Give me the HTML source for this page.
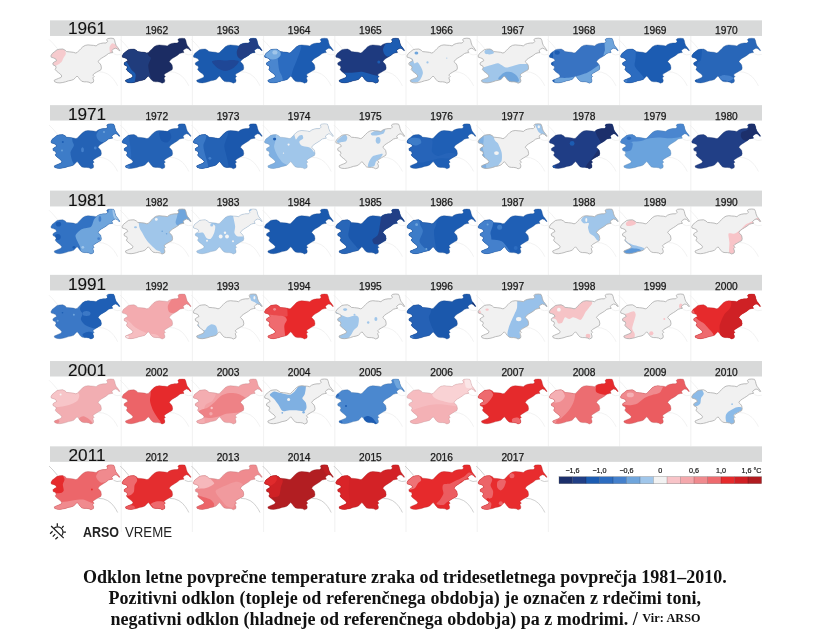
<!DOCTYPE html>
<html><head><meta charset="utf-8"><title>ARSO</title>
<style>
html,body{margin:0;padding:0;background:#fff;}
body{width:831px;height:637px;position:relative;overflow:hidden;font-family:"Liberation Sans",sans-serif;}
svg text{font-family:"Liberation Sans",sans-serif;fill:#111;stroke:#111;stroke-width:0.12px;}
svg text.ys{fill:#181818;stroke:#181818;stroke-width:0.25px;}
svg text.lg{fill:#181818;stroke:#181818;stroke-width:0.2px;}
.cap{position:absolute;font-family:"Liberation Serif",serif;font-weight:bold;color:#111;white-space:nowrap;font-size:18px;line-height:21px;}
.cap span.l{position:absolute;display:block;white-space:nowrap;}
.src{font-size:12.2px;position:relative;top:-3.4px;letter-spacing:0.1px}
.logo{position:absolute;top:523.5px;font-size:14.4px;line-height:16px;color:#222;white-space:nowrap;transform-origin:0 0;}
#wrap{position:absolute;left:0;top:0;width:831px;height:637px;filter:blur(0.55px);}
</style></head><body><div id="wrap">
<svg width="831" height="637" viewBox="0 0 831 637" style="position:absolute;left:0;top:0">
<defs><path id="si" d="M0.9,36.0 L2.3,33.6 L4.7,31.7 L7.1,29.8 L9.4,29.3 L12.8,29.1 L15.2,30.3 L16.6,31.7 L19.9,32.0 L23.3,32.4 L25.6,33.1 L27.1,32.7 L29.0,30.7 L30.9,28.8 L32.8,26.9 L35.2,25.5 L38.0,25.0 L40.9,25.3 L43.7,25.5 L46.1,26.0 L48.0,24.5 L50.4,23.6 L53.3,23.1 L56.1,23.1 L57.6,21.6 L56.6,19.7 L58.0,18.6 L60.9,18.3 L63.7,18.6 L64.7,20.7 L65.2,23.1 L66.1,25.5 L67.6,27.4 L69.0,29.3 L69.9,30.7 L69.0,30.7 L67.1,28.8 L65.2,28.3 L63.3,29.3 L61.8,30.7 L62.8,32.7 L60.9,32.9 L58.5,33.6 L56.1,35.5 L53.7,37.0 L51.4,38.4 L49.5,39.8 L48.0,41.8 L49.5,43.2 L50.9,45.1 L51.4,48.0 L50.9,49.9 L49.0,50.9 L46.6,52.3 L44.2,53.7 L42.8,55.2 L44.2,56.6 L42.8,58.0 L43.7,60.4 L43.3,62.3 L40.9,63.3 L39.0,62.3 L36.6,61.9 L34.2,61.9 L31.8,61.4 L29.9,59.5 L28.5,57.6 L27.1,56.1 L25.6,57.6 L23.7,59.5 L21.3,60.4 L18.5,60.9 L15.6,61.9 L12.8,62.6 L9.9,63.0 L7.1,62.8 L4.7,61.9 L4.2,60.4 L6.1,59.5 L8.5,58.5 L10.9,57.6 L11.8,56.1 L10.4,54.2 L8.5,52.8 L6.6,51.3 L5.1,49.4 L6.1,48.0 L5.6,46.1 L3.2,45.1 L2.8,43.2 L4.7,41.8 L6.6,40.8 L5.6,38.9 L3.2,37.9 L1.3,37.4Z"/><clipPath id="cp"><use href="#si"/></clipPath>
<g id="nb" fill="none" stroke="#ececec" stroke-width="0.7"><path d="M-1,19.5 L3,23.5 L7.5,28.8"/><path d="M48.5,51.9 L53.2,52.3 L57.7,54.1 L61.3,56.8 L64,60 L66.1,63.1 L67.6,66"/><path d="M63.5,33.8 L67,35 L71,34.5"/></g>
<g id="nb6" fill="none" stroke="#bcbcbc" stroke-width="0.7"><path d="M-1,19.5 L3,23.5 L7.5,28.8"/><path d="M48.5,51.9 L53.2,52.3 L57.7,54.1 L61.3,56.8 L64,60 L66.1,63.1 L67.6,66"/><path d="M63.5,33.8 L67,35 L71,34.5"/></g>
</defs>
<rect width="831" height="637" fill="#fff"/>
<line x1="121.2" y1="36.0" x2="121.2" y2="105.2" stroke="#ededed" stroke-width="0.8"/>
<line x1="192.4" y1="36.0" x2="192.4" y2="105.2" stroke="#ededed" stroke-width="0.8"/>
<line x1="263.6" y1="36.0" x2="263.6" y2="105.2" stroke="#ededed" stroke-width="0.8"/>
<line x1="334.8" y1="36.0" x2="334.8" y2="105.2" stroke="#ededed" stroke-width="0.8"/>
<line x1="406.0" y1="36.0" x2="406.0" y2="105.2" stroke="#ededed" stroke-width="0.8"/>
<line x1="477.2" y1="36.0" x2="477.2" y2="105.2" stroke="#ededed" stroke-width="0.8"/>
<line x1="548.4" y1="36.0" x2="548.4" y2="105.2" stroke="#ededed" stroke-width="0.8"/>
<line x1="619.6" y1="36.0" x2="619.6" y2="105.2" stroke="#ededed" stroke-width="0.8"/>
<line x1="690.8" y1="36.0" x2="690.8" y2="105.2" stroke="#ededed" stroke-width="0.8"/>
<line x1="121.2" y1="120.5" x2="121.2" y2="190.6" stroke="#ededed" stroke-width="0.8"/>
<line x1="192.4" y1="120.5" x2="192.4" y2="190.6" stroke="#ededed" stroke-width="0.8"/>
<line x1="263.6" y1="120.5" x2="263.6" y2="190.6" stroke="#ededed" stroke-width="0.8"/>
<line x1="334.8" y1="120.5" x2="334.8" y2="190.6" stroke="#ededed" stroke-width="0.8"/>
<line x1="406.0" y1="120.5" x2="406.0" y2="190.6" stroke="#ededed" stroke-width="0.8"/>
<line x1="477.2" y1="120.5" x2="477.2" y2="190.6" stroke="#ededed" stroke-width="0.8"/>
<line x1="548.4" y1="120.5" x2="548.4" y2="190.6" stroke="#ededed" stroke-width="0.8"/>
<line x1="619.6" y1="120.5" x2="619.6" y2="190.6" stroke="#ededed" stroke-width="0.8"/>
<line x1="690.8" y1="120.5" x2="690.8" y2="190.6" stroke="#ededed" stroke-width="0.8"/>
<line x1="121.2" y1="206.4" x2="121.2" y2="274.9" stroke="#ededed" stroke-width="0.8"/>
<line x1="192.4" y1="206.4" x2="192.4" y2="274.9" stroke="#ededed" stroke-width="0.8"/>
<line x1="263.6" y1="206.4" x2="263.6" y2="274.9" stroke="#ededed" stroke-width="0.8"/>
<line x1="334.8" y1="206.4" x2="334.8" y2="274.9" stroke="#ededed" stroke-width="0.8"/>
<line x1="406.0" y1="206.4" x2="406.0" y2="274.9" stroke="#ededed" stroke-width="0.8"/>
<line x1="477.2" y1="206.4" x2="477.2" y2="274.9" stroke="#ededed" stroke-width="0.8"/>
<line x1="548.4" y1="206.4" x2="548.4" y2="274.9" stroke="#ededed" stroke-width="0.8"/>
<line x1="619.6" y1="206.4" x2="619.6" y2="274.9" stroke="#ededed" stroke-width="0.8"/>
<line x1="690.8" y1="206.4" x2="690.8" y2="274.9" stroke="#ededed" stroke-width="0.8"/>
<line x1="121.2" y1="290.4" x2="121.2" y2="361.1" stroke="#ededed" stroke-width="0.8"/>
<line x1="192.4" y1="290.4" x2="192.4" y2="361.1" stroke="#ededed" stroke-width="0.8"/>
<line x1="263.6" y1="290.4" x2="263.6" y2="361.1" stroke="#ededed" stroke-width="0.8"/>
<line x1="334.8" y1="290.4" x2="334.8" y2="361.1" stroke="#ededed" stroke-width="0.8"/>
<line x1="406.0" y1="290.4" x2="406.0" y2="361.1" stroke="#ededed" stroke-width="0.8"/>
<line x1="477.2" y1="290.4" x2="477.2" y2="361.1" stroke="#ededed" stroke-width="0.8"/>
<line x1="548.4" y1="290.4" x2="548.4" y2="361.1" stroke="#ededed" stroke-width="0.8"/>
<line x1="619.6" y1="290.4" x2="619.6" y2="361.1" stroke="#ededed" stroke-width="0.8"/>
<line x1="690.8" y1="290.4" x2="690.8" y2="361.1" stroke="#ededed" stroke-width="0.8"/>
<line x1="121.2" y1="376.5" x2="121.2" y2="446.4" stroke="#ededed" stroke-width="0.8"/>
<line x1="192.4" y1="376.5" x2="192.4" y2="446.4" stroke="#ededed" stroke-width="0.8"/>
<line x1="263.6" y1="376.5" x2="263.6" y2="446.4" stroke="#ededed" stroke-width="0.8"/>
<line x1="334.8" y1="376.5" x2="334.8" y2="446.4" stroke="#ededed" stroke-width="0.8"/>
<line x1="406.0" y1="376.5" x2="406.0" y2="446.4" stroke="#ededed" stroke-width="0.8"/>
<line x1="477.2" y1="376.5" x2="477.2" y2="446.4" stroke="#ededed" stroke-width="0.8"/>
<line x1="548.4" y1="376.5" x2="548.4" y2="446.4" stroke="#ededed" stroke-width="0.8"/>
<line x1="619.6" y1="376.5" x2="619.6" y2="446.4" stroke="#ededed" stroke-width="0.8"/>
<line x1="690.8" y1="376.5" x2="690.8" y2="446.4" stroke="#ededed" stroke-width="0.8"/>
<line x1="121.2" y1="461.9" x2="121.2" y2="532.0" stroke="#ededed" stroke-width="0.8"/>
<line x1="192.4" y1="461.9" x2="192.4" y2="532.0" stroke="#ededed" stroke-width="0.8"/>
<line x1="263.6" y1="461.9" x2="263.6" y2="532.0" stroke="#ededed" stroke-width="0.8"/>
<line x1="334.8" y1="461.9" x2="334.8" y2="532.0" stroke="#ededed" stroke-width="0.8"/>
<line x1="406.0" y1="461.9" x2="406.0" y2="532.0" stroke="#ededed" stroke-width="0.8"/>
<line x1="477.2" y1="461.9" x2="477.2" y2="532.0" stroke="#ededed" stroke-width="0.8"/>
<line x1="548.4" y1="461.9" x2="548.4" y2="532.0" stroke="#ededed" stroke-width="0.8"/>
<rect x="50" y="20.35" width="712" height="15.60" fill="#d8d9d9"/>
<rect x="50" y="105.15" width="712" height="15.40" fill="#d8d9d9"/>
<rect x="50" y="190.60" width="712" height="15.85" fill="#d8d9d9"/>
<rect x="50" y="274.85" width="712" height="15.60" fill="#d8d9d9"/>
<rect x="50" y="361.05" width="712" height="15.45" fill="#d8d9d9"/>
<rect x="50" y="446.35" width="712" height="15.50" fill="#d8d9d9"/>
<g transform="translate(50.0,19.9)">
<use href="#nb"/>
<g clip-path="url(#cp)"><rect x="-2" y="14" width="76" height="54" fill="#f1f1f1"/>
<path d="M0.0,35.7 C0.2,34.7 3.7,32.0 5.1,31.0 C6.5,30.0 9.0,28.6 10.3,28.5 C11.6,28.4 14.1,29.3 14.8,30.0 C15.5,30.7 16.0,32.9 15.8,34.0 C15.6,35.1 14.0,37.0 13.5,38.0 C13.0,39.0 12.4,40.7 11.8,41.5 C11.2,42.3 10.0,43.4 9.0,44.0 C8.0,44.6 5.2,46.3 4.3,46.0 C3.4,45.7 2.7,42.6 2.6,41.6 C2.5,40.6 3.7,39.0 3.4,38.2 C3.1,37.4 -0.2,36.7 0.0,35.7Z" fill="#f6cbce"/>
<path d="M59.5,27.5 C59.7,26.2 61.1,23.8 62.0,23.5 C62.9,23.2 65.6,24.4 66.5,25.5 C67.4,26.6 69.3,30.3 69.0,31.5 C68.7,32.7 65.1,34.2 64.0,34.5 C62.9,34.8 61.1,34.4 60.5,33.5 C59.9,32.6 59.3,28.8 59.5,27.5Z" fill="#f6cbce"/>
</g>
<use href="#si" fill="none" stroke="#ababab" stroke-width="0.8"/>
</g>
<text x="87.0" y="34.4" font-size="17.2" text-anchor="middle" class="yl">1961</text>
<g transform="translate(121.2,19.9)">
<use href="#nb"/>
<g clip-path="url(#cp)"><rect x="-2" y="14" width="76" height="54" fill="#1b2c63"/>
<path d="M-5.0,0.0 C-0.8,-10.7 22.0,-4.3 26.2,0.0 C30.4,4.3 25.7,27.1 26.2,32.2 C26.7,37.3 29.5,36.5 29.6,38.2 C29.7,39.9 27.3,43.2 27.1,45.0 C26.9,46.8 27.6,50.1 27.9,51.9 C28.2,53.7 29.4,55.0 29.6,58.7 C29.8,62.4 34.2,77.2 29.6,80.0 C25.0,82.8 -0.4,90.7 -5.0,80.0 C-9.6,69.3 -9.2,10.7 -5.0,0.0Z" fill="#203c7c"/>
<path d="M-2.0,41.0 C-1.2,37.7 2.7,40.5 4.0,41.0 C5.3,41.5 6.5,43.8 7.4,45.0 C8.3,46.2 9.6,48.9 10.5,50.2 C11.4,51.5 14.3,52.9 14.5,55.0 C14.7,57.1 13.3,64.5 12.0,66.0 C10.7,67.5 6.8,66.0 4.9,66.0 C3.0,66.0 -1.1,69.3 -2.0,66.0 C-2.9,62.7 -2.8,44.3 -2.0,41.0Z" fill="#1c5cb2"/>
</g>
<use href="#si" fill="none" stroke="#14214a" stroke-opacity="0.55" stroke-width="0.6"/>
</g>
<text x="156.8" y="34.4" font-size="10.2" text-anchor="middle" class="ys">1962</text>
<g transform="translate(192.4,19.9)">
<use href="#nb"/>
<g clip-path="url(#cp)"><rect x="-2" y="14" width="76" height="54" fill="#1b5aae"/>
<path d="M44.5,31.0 C45.0,29.0 47.7,23.5 49.2,22.0 C50.7,20.5 54.7,21.1 56.0,20.0 C57.3,18.9 57.3,14.8 58.6,14.0 C59.9,13.2 63.6,11.9 65.4,14.0 C67.2,16.1 72.3,27.2 72.0,29.7 C71.7,32.2 64.7,31.5 62.8,32.5 C60.9,33.5 59.3,36.5 57.7,37.5 C56.1,38.5 52.5,40.1 50.9,40.0 C49.3,39.9 46.4,38.2 45.5,37.0 C44.6,35.8 44.0,33.0 44.5,31.0Z" fill="#223f85"/>
<path d="M19.5,41.6 C19.6,40.5 24.2,40.1 26.0,40.0 C27.8,39.9 31.1,40.5 33.0,40.5 C34.9,40.5 38.2,39.9 40.0,40.0 C41.8,40.1 46.4,40.4 46.5,41.5 C46.6,42.6 42.8,46.7 41.0,48.0 C39.2,49.3 35.1,51.0 33.0,51.0 C30.9,51.0 26.8,49.3 25.0,48.0 C23.2,46.7 19.4,42.7 19.5,41.6Z" fill="#1f4796"/>
</g>
<use href="#si" fill="none" stroke="#144382" stroke-opacity="0.55" stroke-width="0.6"/>
</g>
<text x="228.0" y="34.4" font-size="10.2" text-anchor="middle" class="ys">1963</text>
<g transform="translate(263.6,19.9)">
<use href="#nb"/>
<g clip-path="url(#cp)"><rect x="-2" y="14" width="76" height="54" fill="#1c5cb2"/>
<path d="M-5.0,0.0 C0.7,-10.7 32.1,-3.5 37.8,0.0 C43.5,3.5 38.9,19.6 37.8,26.3 C36.7,33.0 30.7,45.7 29.3,50.2 C27.9,54.7 27.7,56.4 27.5,60.4 C27.3,64.4 31.8,77.4 27.5,80.0 C23.2,82.6 -0.7,90.7 -5.0,80.0 C-9.3,69.3 -10.7,10.7 -5.0,0.0Z" fill="#2c6cc0"/>
<path d="M-5.0,0.0 C-2.5,-10.7 11.4,-4.4 13.9,0.0 C16.4,4.4 13.7,26.4 13.9,33.1 C14.1,39.8 14.9,46.8 15.6,50.2 C16.3,53.6 18.5,54.7 19.0,58.7 C19.5,62.7 22.2,77.2 19.0,80.0 C15.8,82.8 -1.8,90.7 -5.0,80.0 C-8.2,69.3 -7.5,10.7 -5.0,0.0Z" fill="#4a86cf"/>
<ellipse cx="9.2" cy="34.0" rx="8.0" ry="5.5" fill="#74a9df"/>
<ellipse cx="11.3" cy="32.5" rx="2.6" ry="2.2" fill="#a0c6ea"/>
</g>
<use href="#si" fill="none" stroke="#154585" stroke-opacity="0.55" stroke-width="0.6"/>
</g>
<text x="299.2" y="34.4" font-size="10.2" text-anchor="middle" class="ys">1964</text>
<g transform="translate(334.8,19.9)">
<use href="#nb"/>
<g clip-path="url(#cp)"><rect x="-2" y="14" width="76" height="54" fill="#1e3a7f"/>
<path d="M48.3,28.8 C48.7,27.3 51.0,23.2 52.2,22.0 C53.4,20.8 56.5,21.1 57.3,20.0 C58.1,18.9 57.2,14.8 58.2,14.0 C59.2,13.2 63.2,11.9 65.0,14.0 C66.8,16.1 72.3,27.2 72.0,29.7 C71.7,32.2 64.4,31.7 62.4,32.5 C60.4,33.3 58.7,35.0 57.3,35.5 C55.9,36.0 53.3,36.8 52.2,36.5 C51.1,36.2 49.7,34.5 49.2,33.5 C48.7,32.5 47.9,30.3 48.3,28.8Z" fill="#1c5cb2"/>
<path d="M-5.0,80.0 C-16.3,76.4 -5.7,56.4 -5.0,52.8 C-4.3,49.2 -2.9,52.8 0.0,52.8 C2.9,52.8 13.4,52.9 17.0,52.8 C20.6,52.7 24.3,51.7 27.0,51.9 C29.7,52.1 34.6,53.9 37.0,54.5 C39.4,55.1 43.0,55.7 45.0,56.2 C47.0,56.7 47.3,57.8 52.0,58.0 C56.7,58.2 76.3,55.1 80.0,58.0 C83.7,60.9 91.3,77.1 80.0,80.0 C68.7,82.9 6.3,83.6 -5.0,80.0Z" fill="#1c5cb2"/>
<ellipse cx="44.0" cy="42.0" rx="1.5" ry="1.5" fill="#1c5cb2"/>
</g>
<use href="#si" fill="none" stroke="#162b5f" stroke-opacity="0.55" stroke-width="0.6"/>
</g>
<text x="370.4" y="34.4" font-size="10.2" text-anchor="middle" class="ys">1965</text>
<g transform="translate(406.0,19.9)">
<use href="#nb"/>
<g clip-path="url(#cp)"><rect x="-2" y="14" width="76" height="54" fill="#f1f1f1"/>
<path d="M2.4,38.2 C2.7,37.4 5.8,38.4 6.6,39.1 C7.4,39.8 7.6,42.9 8.3,43.4 C9.0,43.9 10.9,41.9 11.8,42.5 C12.7,43.1 14.5,46.2 15.2,47.6 C15.9,49.0 16.9,51.4 16.9,52.8 C16.9,54.2 15.9,56.6 15.2,57.9 C14.5,59.2 13.2,61.6 11.8,62.2 C10.4,62.8 5.9,62.7 4.9,62.2 C3.9,61.7 3.6,59.5 4.1,58.7 C4.6,57.9 8.1,57.3 8.3,56.2 C8.5,55.1 6.4,51.7 5.8,50.2 C5.2,48.7 4.6,46.7 4.1,45.1 C3.6,43.5 2.1,39.0 2.4,38.2Z" fill="#a0c6ea"/>
<ellipse cx="10.4" cy="33.1" rx="1.9" ry="1.6" fill="#6fa5dc"/>
<ellipse cx="21.5" cy="42.5" rx="1.1" ry="1.1" fill="#a0c6ea"/>
<ellipse cx="40.8" cy="38.2" rx="0.6" ry="0.6" fill="#a0c6ea"/>
</g>
<use href="#si" fill="none" stroke="#ababab" stroke-width="0.8"/>
</g>
<text x="441.6" y="34.4" font-size="10.2" text-anchor="middle" class="ys">1966</text>
<g transform="translate(477.2,19.9)">
<use href="#nb"/>
<g clip-path="url(#cp)"><rect x="-2" y="14" width="76" height="54" fill="#f1f1f1"/>
<path d="M-5.0,80.0 C-16.3,75.7 -5.7,52.3 -5.0,48.0 C-4.3,43.7 -1.4,48.1 0.0,48.0 C1.4,47.9 3.7,48.0 5.6,47.6 C7.5,47.2 12.1,45.7 14.2,45.1 C16.3,44.5 19.1,43.1 21.0,43.4 C22.9,43.7 26.6,47.3 28.7,47.6 C30.8,47.9 34.5,46.4 36.4,45.9 C38.3,45.4 41.4,44.4 43.2,44.2 C45.0,44.0 48.4,44.2 50.0,44.2 C51.6,44.2 51.0,44.2 55.0,44.2 C59.0,44.2 76.7,39.4 80.0,44.2 C83.3,49.0 91.3,75.2 80.0,80.0 C68.7,84.8 6.3,84.3 -5.0,80.0Z" fill="#a0c6ea"/>
<path d="M21.0,58.7 C21.0,57.7 23.3,55.4 24.4,54.5 C25.5,53.6 28.1,52.1 29.6,51.9 C31.1,51.7 34.2,52.2 35.6,52.8 C37.0,53.4 39.0,55.1 39.8,56.2 C40.6,57.3 42.4,60.4 41.5,61.3 C40.6,62.2 34.6,63.0 33.0,63.0 C31.4,63.0 30.7,61.1 29.6,61.0 C28.5,60.9 25.5,62.3 24.4,62.0 C23.3,61.7 21.0,59.7 21.0,58.7Z" fill="#6fa5dc"/>
<path d="M7.3,31.4 C7.5,30.7 8.9,29.3 9.9,29.0 C10.9,28.7 14.1,29.0 15.0,29.5 C15.9,30.0 17.0,32.4 16.7,33.1 C16.4,33.8 13.6,34.4 12.5,34.5 C11.4,34.6 8.9,34.3 8.2,33.9 C7.5,33.5 7.1,32.1 7.3,31.4Z" fill="#a0c6ea"/>
</g>
<use href="#si" fill="none" stroke="#ababab" stroke-width="0.8"/>
</g>
<text x="512.8" y="34.4" font-size="10.2" text-anchor="middle" class="ys">1967</text>
<g transform="translate(548.4,19.9)">
<use href="#nb"/>
<g clip-path="url(#cp)"><rect x="-2" y="14" width="76" height="54" fill="#3873c2"/>
<path d="M80.0,0.0 C76.8,-10.7 59.2,-2.7 56.0,0.0 C52.8,2.7 55.9,16.0 56.0,20.0 C56.1,24.0 56.6,27.6 56.5,30.0 C56.4,32.4 55.2,31.3 55.0,38.0 C54.8,44.7 51.7,74.4 55.0,80.0 C58.3,85.6 76.7,90.7 80.0,80.0 C83.3,69.3 83.2,10.7 80.0,0.0Z" fill="#6fa5dc"/>
<path d="M-5.0,80.0 C-16.3,77.1 -5.7,60.8 -5.0,57.9 C-4.3,55.0 -1.7,57.9 0.0,57.9 C1.7,57.9 5.2,57.9 7.9,57.9 C10.6,57.9 17.2,58.1 19.9,57.9 C22.6,57.7 26.0,56.9 28.5,56.2 C31.0,55.5 36.4,53.8 38.7,52.8 C41.0,51.8 43.9,49.5 45.5,48.5 C47.1,47.5 48.8,46.2 50.7,45.1 C52.6,44.0 56.1,40.7 60.0,40.0 C63.9,39.3 77.3,34.7 80.0,40.0 C82.7,45.3 91.3,74.7 80.0,80.0 C68.7,85.3 6.3,82.9 -5.0,80.0Z" fill="#6fa5dc"/>
<ellipse cx="8.8" cy="32.7" rx="2.6" ry="2.2" fill="#1c5cb2"/>
<path d="M-5.0,0.0 C-3.7,-10.7 3.2,-4.0 4.5,0.0 C5.8,4.0 4.4,24.0 4.5,30.0 C4.6,36.0 4.8,41.0 5.0,45.0 C5.2,49.0 5.9,55.3 6.0,60.0 C6.1,64.7 7.5,77.3 6.0,80.0 C4.5,82.7 -3.5,90.7 -5.0,80.0 C-6.5,69.3 -6.3,10.7 -5.0,0.0Z" fill="#1c5cb2"/>
</g>
<use href="#si" fill="none" stroke="#2a5691" stroke-opacity="0.55" stroke-width="0.6"/>
</g>
<text x="584.0" y="34.4" font-size="10.2" text-anchor="middle" class="ys">1968</text>
<g transform="translate(619.6,19.9)">
<use href="#nb"/>
<g clip-path="url(#cp)"><rect x="-2" y="14" width="76" height="54" fill="#1c5cb2"/>
<path d="M-5.0,0.0 C-2.2,-10.7 13.3,-4.7 16.1,0.0 C18.9,4.7 16.2,29.4 16.1,35.5 C16.0,41.6 14.5,43.5 15.2,46.0 C15.9,48.5 20.1,52.1 21.4,54.0 C22.7,55.9 24.4,56.7 24.9,60.2 C25.4,63.7 28.9,77.4 24.9,80.0 C20.9,82.6 -1.0,90.7 -5.0,80.0 C-9.0,69.3 -7.8,10.7 -5.0,0.0Z" fill="#2c6cc0"/>
<ellipse cx="5.5" cy="61.0" rx="2.2" ry="2.2" fill="#4480cc"/>
</g>
<use href="#si" fill="none" stroke="#154585" stroke-opacity="0.55" stroke-width="0.6"/>
</g>
<text x="655.2" y="34.4" font-size="10.2" text-anchor="middle" class="ys">1969</text>
<g transform="translate(690.8,19.9)">
<use href="#nb"/>
<g clip-path="url(#cp)"><rect x="-2" y="14" width="76" height="54" fill="#2866b8"/>
<path d="M-5.0,0.0 C-2.8,-10.7 9.0,-4.0 11.2,0.0 C13.4,4.0 11.4,24.7 11.2,30.0 C11.0,35.3 10.7,37.9 10.0,40.0 C9.3,42.1 6.5,40.7 6.0,46.0 C5.5,51.3 7.5,75.5 6.0,80.0 C4.5,84.5 -3.5,90.7 -5.0,80.0 C-6.5,69.3 -7.2,10.7 -5.0,0.0Z" fill="#1c5cb2"/>
<path d="M28.0,57.5 C28.1,56.8 31.4,55.4 33.0,55.2 C34.6,55.0 38.7,55.9 40.0,56.3 C41.3,56.7 42.8,57.9 42.5,58.5 C42.2,59.1 39.4,60.9 38.0,61.1 C36.6,61.3 33.3,60.7 32.0,60.2 C30.7,59.7 27.9,58.2 28.0,57.5Z" fill="#4480cc"/>
</g>
<use href="#si" fill="none" stroke="#1e4c8a" stroke-opacity="0.55" stroke-width="0.6"/>
</g>
<text x="726.4" y="34.4" font-size="10.2" text-anchor="middle" class="ys">1970</text>
<g transform="translate(50.0,105.5)">
<use href="#nb"/>
<g clip-path="url(#cp)"><rect x="-2" y="14" width="76" height="54" fill="#2462b5"/>
<path d="M-5.0,0.0 C-1.4,-10.7 18.6,-4.4 22.2,0.0 C25.8,4.4 22.0,27.8 22.2,33.1 C22.4,38.4 24.1,38.1 23.9,39.9 C23.7,41.7 20.7,44.7 20.5,46.8 C20.3,48.9 21.7,53.5 22.2,55.3 C22.7,57.1 23.7,57.1 23.9,60.4 C24.1,63.7 27.8,77.4 23.9,80.0 C20.0,82.6 -1.1,90.7 -5.0,80.0 C-8.9,69.3 -8.6,10.7 -5.0,0.0Z" fill="#3d7cc8"/>
<path d="M46.5,28.8 C47.0,27.3 49.9,23.2 51.3,22.0 C52.7,20.8 56.3,21.1 57.3,20.0 C58.3,18.9 57.9,14.8 59.0,14.0 C60.1,13.2 64.1,11.9 65.8,14.0 C67.5,16.1 72.3,27.2 72.0,29.7 C71.7,32.2 65.2,31.7 63.2,32.5 C61.2,33.3 58.9,35.0 57.3,35.5 C55.7,36.0 52.6,36.8 51.3,36.5 C50.0,36.2 48.1,34.5 47.5,33.5 C46.9,32.5 46.0,30.3 46.5,28.8Z" fill="#3d7cc8"/>
<ellipse cx="32.5" cy="44.2" rx="1.4" ry="2.5" fill="#4480cc"/>
<ellipse cx="45.3" cy="42.5" rx="1.4" ry="1.4" fill="#4480cc"/>
<ellipse cx="12.8" cy="36.5" rx="1.0" ry="1.0" fill="#1c5cb2"/>
<ellipse cx="12.0" cy="45.0" rx="0.9" ry="0.9" fill="#6fa5dc"/>
<ellipse cx="54.0" cy="26.5" rx="1.0" ry="1.0" fill="#6fa5dc"/>
</g>
<use href="#si" fill="none" stroke="#1b4987" stroke-opacity="0.55" stroke-width="0.6"/>
</g>
<text x="87.0" y="119.9" font-size="17.2" text-anchor="middle" class="yl">1971</text>
<g transform="translate(121.2,105.5)">
<use href="#nb"/>
<g clip-path="url(#cp)"><rect x="-2" y="14" width="76" height="54" fill="#2462b5"/>
<path d="M38.0,27.0 C38.3,25.7 40.7,25.1 42.0,25.0 C43.3,24.9 46.9,25.1 48.0,26.0 C49.1,26.9 50.3,30.5 50.0,32.0 C49.7,33.5 47.3,36.6 46.0,37.0 C44.7,37.4 41.1,36.3 40.0,35.0 C38.9,33.7 37.7,28.3 38.0,27.0Z" fill="#1c58ad"/>
<path d="M-5.0,0.0 C-3.3,-10.7 6.3,-4.0 8.0,0.0 C9.7,4.0 7.9,24.7 8.0,30.0 C8.1,35.3 8.7,37.3 9.0,40.0 C9.3,42.7 10.0,47.6 10.0,50.0 C10.0,52.4 9.1,54.0 9.0,58.0 C8.9,62.0 10.9,77.1 9.0,80.0 C7.1,82.9 -3.1,90.7 -5.0,80.0 C-6.9,69.3 -6.7,10.7 -5.0,0.0Z" fill="#2c6cc0"/>
<ellipse cx="6.0" cy="61.5" rx="2.5" ry="1.5" fill="#4480cc"/>
</g>
<use href="#si" fill="none" stroke="#1b4987" stroke-opacity="0.55" stroke-width="0.6"/>
</g>
<text x="156.8" y="119.9" font-size="10.2" text-anchor="middle" class="ys">1972</text>
<g transform="translate(192.4,105.5)">
<use href="#nb"/>
<g clip-path="url(#cp)"><rect x="-2" y="14" width="76" height="54" fill="#1b58ad"/>
<path d="M-5.0,0.0 C0.5,-10.7 30.5,-3.5 36.0,0.0 C41.5,3.5 36.5,20.7 36.0,26.0 C35.5,31.3 32.3,36.8 32.0,40.0 C31.7,43.2 33.5,47.3 34.0,50.0 C34.5,52.7 35.7,56.0 36.0,60.0 C36.3,64.0 41.5,77.3 36.0,80.0 C30.5,82.7 0.5,90.7 -5.0,80.0 C-10.5,69.3 -10.5,10.7 -5.0,0.0Z" fill="#2462b5"/>
<path d="M-5.0,0.0 C-2.5,-10.7 11.5,-4.0 14.0,0.0 C16.5,4.0 14.4,24.7 14.0,30.0 C13.6,35.3 11.1,37.3 11.0,40.0 C10.9,42.7 12.3,47.1 13.0,50.0 C13.7,52.9 15.6,58.0 16.0,62.0 C16.4,66.0 18.8,77.6 16.0,80.0 C13.2,82.4 -2.2,90.7 -5.0,80.0 C-7.8,69.3 -7.5,10.7 -5.0,0.0Z" fill="#3a78c6"/>
<ellipse cx="17.5" cy="52.8" rx="1.4" ry="1.4" fill="#4480cc"/>
</g>
<use href="#si" fill="none" stroke="#144281" stroke-opacity="0.55" stroke-width="0.6"/>
</g>
<text x="228.0" y="119.9" font-size="10.2" text-anchor="middle" class="ys">1973</text>
<g transform="translate(263.6,105.5)">
<use href="#nb"/>
<g clip-path="url(#cp)"><rect x="-2" y="14" width="76" height="54" fill="#a0c6ea"/>
<path d="M31.8,33.1 C32.4,35.8 34.3,31.0 35.2,30.5 C36.1,30.0 38.1,29.4 38.7,29.7 C39.3,30.0 39.9,32.2 39.5,33.1 C39.1,34.0 35.9,35.3 35.7,36.2 C35.5,37.1 36.6,39.2 37.8,39.9 C39.0,40.6 43.2,41.1 44.6,41.6 C46.0,42.1 47.1,42.7 48.0,43.4 C48.9,44.1 50.1,47.0 51.5,46.8 C52.9,46.6 55.6,43.4 58.3,41.6 C61.0,39.8 70.2,37.3 72.0,33.1 C73.8,28.9 77.5,13.1 72.0,10.0 C66.5,6.9 36.4,6.9 31.0,10.0 C25.6,13.1 31.2,30.4 31.8,33.1Z" fill="#f1f1f1"/>
<path d="M-5.0,0.0 C-2.7,-10.7 9.9,-4.2 12.2,0.0 C14.5,4.2 12.4,25.9 12.2,31.4 C12.0,36.9 10.3,39.1 10.5,41.6 C10.7,44.1 12.8,48.1 13.9,50.2 C15.0,52.3 17.6,55.5 19.0,57.0 C20.4,58.5 23.4,58.2 24.1,61.3 C24.8,64.4 28.0,77.5 24.1,80.0 C20.2,82.5 -1.1,90.7 -5.0,80.0 C-8.9,69.3 -7.3,10.7 -5.0,0.0Z" fill="#7fb0e2"/>
<ellipse cx="11.0" cy="33.6" rx="1.6" ry="1.3" fill="#1c5cb2"/>
<ellipse cx="25.0" cy="39.1" rx="1.1" ry="1.1" fill="#f4f4f4"/>
<ellipse cx="19.9" cy="47.6" rx="0.7" ry="0.7" fill="#f4f4f4"/>
</g>
<use href="#si" fill="none" stroke="#7894af" stroke-opacity="0.55" stroke-width="0.6"/>
</g>
<text x="299.2" y="119.9" font-size="10.2" text-anchor="middle" class="ys">1974</text>
<g transform="translate(334.8,105.5)">
<use href="#nb"/>
<g clip-path="url(#cp)"><rect x="-2" y="14" width="76" height="54" fill="#f1f1f1"/>
<path d="M1.8,35.7 C2.1,34.9 4.9,32.3 6.0,31.4 C7.1,30.5 9.4,28.9 10.3,29.0 C11.2,29.1 12.4,31.3 12.5,32.2 C12.6,33.1 11.9,35.1 11.2,35.7 C10.5,36.3 7.9,36.3 6.9,36.5 C5.9,36.7 4.2,37.5 3.5,37.4 C2.8,37.3 1.5,36.5 1.8,35.7Z" fill="#a0c6ea"/>
<path d="M36.0,28.0 C36.3,27.4 38.8,25.9 40.2,25.5 C41.6,25.1 44.8,25.1 46.2,24.8 C47.6,24.5 50.2,23.1 50.5,23.5 C50.8,23.9 49.8,27.2 48.8,28.0 C47.8,28.8 44.3,29.4 42.8,29.7 C41.3,30.0 38.6,30.2 37.7,30.0 C36.8,29.8 35.7,28.6 36.0,28.0Z" fill="#a0c6ea"/>
<ellipse cx="43.3" cy="34.8" rx="2.4" ry="3.4" fill="#a0c6ea"/>
<path d="M37.7,51.0 C38.8,50.1 41.4,49.6 42.8,49.3 C44.2,49.0 47.6,48.0 47.9,48.5 C48.2,49.0 46.3,51.8 45.4,52.8 C44.5,53.8 41.9,55.2 41.1,56.2 C40.3,57.2 40.4,59.7 39.4,60.4 C38.4,61.1 34.1,61.9 33.4,61.3 C32.7,60.7 33.6,57.6 34.2,56.2 C34.8,54.8 36.6,51.9 37.7,51.0Z" fill="#a0c6ea"/>
</g>
<use href="#si" fill="none" stroke="#ababab" stroke-width="0.8"/>
</g>
<text x="370.4" y="119.9" font-size="10.2" text-anchor="middle" class="ys">1975</text>
<g transform="translate(406.0,105.5)">
<use href="#nb"/>
<g clip-path="url(#cp)"><rect x="-2" y="14" width="76" height="54" fill="#1f5fb5"/>
<path d="M0.0,34.0 C3.3,31.7 21.5,31.4 25.0,33.0 C28.5,34.6 25.1,43.7 26.0,46.0 C26.9,48.3 29.9,50.3 32.0,50.5 C34.1,50.7 39.6,47.9 42.0,47.6 C44.4,47.3 49.5,47.8 50.0,48.5 C50.5,49.2 48.1,52.2 46.0,52.8 C43.9,53.4 36.9,52.5 34.0,52.8 C31.1,53.1 26.8,54.7 24.0,55.3 C21.2,55.9 16.2,57.7 13.0,57.0 C9.8,56.3 1.7,53.1 0.0,50.0 C-1.7,46.9 -3.3,36.3 0.0,34.0Z" fill="#2664b9"/>
<path d="M1.5,34.8 C1.7,33.9 5.0,32.4 6.6,32.2 C8.2,32.0 12.4,32.4 13.5,33.1 C14.6,33.8 15.7,36.5 15.2,37.4 C14.7,38.3 11.5,39.7 10.1,39.9 C8.7,40.1 6.0,39.8 4.9,39.1 C3.8,38.4 1.3,35.7 1.5,34.8Z" fill="#3d7cc8"/>
</g>
<use href="#si" fill="none" stroke="#174787" stroke-opacity="0.55" stroke-width="0.6"/>
</g>
<text x="441.6" y="119.9" font-size="10.2" text-anchor="middle" class="ys">1976</text>
<g transform="translate(477.2,105.5)">
<use href="#nb"/>
<g clip-path="url(#cp)"><rect x="-2" y="14" width="76" height="54" fill="#f1f1f1"/>
<path d="M-5.0,0.0 C-2.1,-10.7 13.8,-4.2 16.7,0.0 C19.6,4.2 16.1,26.3 16.7,31.4 C17.3,36.5 20.0,36.1 21.0,38.2 C22.0,40.3 23.9,44.5 24.4,46.8 C24.9,49.1 24.9,53.4 24.4,55.3 C23.9,57.2 21.5,58.0 21.0,61.3 C20.5,64.6 24.5,77.5 21.0,80.0 C17.5,82.5 -1.5,90.7 -5.0,80.0 C-8.5,69.3 -7.9,10.7 -5.0,0.0Z" fill="#a0c6ea"/>
<path d="M-5.0,0.0 C-3.5,-10.7 5.0,-4.4 6.5,0.0 C8.0,4.4 6.6,27.4 6.5,33.0 C6.4,38.6 5.5,39.7 5.6,42.0 C5.7,44.3 6.8,47.5 7.3,50.2 C7.8,52.9 8.9,58.2 9.1,62.2 C9.3,66.2 11.0,77.6 9.1,80.0 C7.2,82.4 -3.1,90.7 -5.0,80.0 C-6.9,69.3 -6.5,10.7 -5.0,0.0Z" fill="#7fb0e2"/>
<ellipse cx="19.3" cy="47.6" rx="2.4" ry="1.9" fill="#f4f4f4"/>
<path d="M57.8,18.0 C58.5,17.3 63.5,16.6 64.6,17.5 C65.7,18.4 65.7,22.9 66.3,24.5 C66.9,26.1 69.1,29.1 68.9,29.7 C68.7,30.3 65.6,29.3 64.6,28.8 C63.6,28.3 61.9,27.1 61.2,26.3 C60.5,25.5 60.0,23.9 59.5,22.8 C59.0,21.7 57.1,18.7 57.8,18.0Z" fill="#a0c6ea"/>
<ellipse cx="61.6" cy="21.3" rx="1.2" ry="1.5" fill="#f4f4f4"/>
</g>
<use href="#si" fill="none" stroke="#ababab" stroke-width="0.8"/>
</g>
<text x="512.8" y="119.9" font-size="10.2" text-anchor="middle" class="ys">1977</text>
<g transform="translate(548.4,105.5)">
<use href="#nb"/>
<g clip-path="url(#cp)"><rect x="-2" y="14" width="76" height="54" fill="#1f3d85"/>
<path d="M80.0,0.0 C75.6,-10.7 51.7,-3.5 47.3,0.0 C42.9,3.5 46.6,21.2 47.3,26.3 C48.0,31.4 52.6,35.0 52.4,38.2 C52.2,41.4 47.7,47.0 45.6,50.2 C43.5,53.4 38.1,58.2 37.0,62.2 C35.9,66.2 31.3,77.6 37.0,80.0 C42.7,82.4 74.3,90.7 80.0,80.0 C85.7,69.3 84.4,10.7 80.0,0.0Z" fill="#1c2f6b"/>
<ellipse cx="23.7" cy="37.9" rx="2.4" ry="2.4" fill="#1c5cb2"/>
<ellipse cx="5.4" cy="61.3" rx="1.7" ry="1.7" fill="#1c5cb2"/>
</g>
<use href="#si" fill="none" stroke="#172d63" stroke-opacity="0.55" stroke-width="0.6"/>
</g>
<text x="584.0" y="119.9" font-size="10.2" text-anchor="middle" class="ys">1978</text>
<g transform="translate(619.6,105.5)">
<use href="#nb"/>
<g clip-path="url(#cp)"><rect x="-2" y="14" width="76" height="54" fill="#6aa3dd"/>
<path d="M-5.0,0.0 C-16.3,5.1 -5.8,33.0 -5.0,38.1 C-4.2,43.2 -0.8,38.1 1.1,38.1 C3.0,38.1 7.5,38.3 9.0,38.1 C10.5,37.9 10.9,36.6 12.6,36.3 C14.3,36.0 19.1,36.0 21.4,35.5 C23.7,35.0 27.6,33.3 30.2,32.8 C32.8,32.3 38.3,31.9 40.9,31.9 C43.5,31.9 47.4,32.8 49.7,32.8 C52.0,32.8 56.1,32.2 58.5,31.9 C60.9,31.6 64.5,30.4 67.4,30.2 C70.3,30.0 78.3,34.2 80.0,30.2 C81.7,26.2 91.3,4.0 80.0,0.0 C68.7,-4.0 6.3,-5.1 -5.0,0.0Z" fill="#4a86cf"/>
<path d="M1.1,38.1 C2.4,37.2 11.2,36.4 12.6,37.2 C14.0,38.0 12.4,43.1 11.7,44.3 C11.0,45.5 8.4,46.0 7.2,46.0 C6.0,46.0 3.6,45.4 2.8,44.3 C2.0,43.2 -0.2,39.0 1.1,38.1Z" fill="#4a86cf"/>
<ellipse cx="9.4" cy="32.8" rx="2.2" ry="1.8" fill="#2c6cc0"/>
</g>
<use href="#si" fill="none" stroke="#4f7aa5" stroke-opacity="0.55" stroke-width="0.6"/>
</g>
<text x="655.2" y="119.9" font-size="10.2" text-anchor="middle" class="ys">1979</text>
<g transform="translate(690.8,105.5)">
<use href="#nb"/>
<g clip-path="url(#cp)"><rect x="-2" y="14" width="76" height="54" fill="#213f86"/>
<path d="M51.0,26.6 C51.9,25.7 56.1,25.4 57.2,24.0 C58.3,22.6 57.7,17.1 59.0,16.0 C60.3,14.9 65.3,14.0 67.0,16.0 C68.7,18.0 72.5,28.8 72.0,31.0 C71.5,33.2 65.3,32.2 63.4,32.8 C61.5,33.4 59.5,35.3 58.1,35.5 C56.7,35.7 53.9,35.2 52.8,34.6 C51.7,34.0 50.3,32.1 50.1,31.0 C49.9,29.9 50.1,27.5 51.0,26.6Z" fill="#1c2f6b"/>
</g>
<use href="#si" fill="none" stroke="#182f64" stroke-opacity="0.55" stroke-width="0.6"/>
</g>
<text x="726.4" y="119.9" font-size="10.2" text-anchor="middle" class="ys">1980</text>
<g transform="translate(50.0,190.7)">
<use href="#nb"/>
<g clip-path="url(#cp)"><rect x="-2" y="14" width="76" height="54" fill="#3272c3"/>
<ellipse cx="8.5" cy="33.5" rx="2.6" ry="2.4" fill="#1c5cb2"/>
<ellipse cx="7.7" cy="46.3" rx="3.0" ry="3.0" fill="#1c5cb2"/>
<path d="M25.6,44.6 C26.2,43.0 29.5,39.7 31.6,38.6 C33.7,37.5 39.3,37.5 41.0,36.1 C42.7,34.7 43.0,30.3 44.4,28.4 C45.8,26.5 49.5,22.9 51.3,22.0 C53.1,21.1 57.1,22.8 58.1,22.0 C59.1,21.2 58.0,16.8 59.0,16.0 C60.0,15.2 64.1,14.1 65.8,16.0 C67.5,17.9 72.3,27.9 72.0,30.1 C71.7,32.3 65.3,31.8 63.2,32.6 C61.1,33.4 58.0,35.1 56.4,36.1 C54.8,37.1 52.0,38.4 51.3,40.3 C50.6,42.2 52.0,48.5 51.3,50.6 C50.6,52.7 47.3,53.9 46.2,55.7 C45.1,57.5 44.5,62.9 42.7,64.0 C40.9,65.1 34.2,65.1 32.5,64.0 C30.8,62.9 30.6,57.5 29.9,55.7 C29.2,53.9 28.0,52.1 27.4,50.6 C26.8,49.1 25.0,46.2 25.6,44.6Z" fill="#6fa5dc"/>
<path d="M62.4,16.0 C62.7,14.8 64.5,14.1 65.8,16.0 C67.1,17.9 72.0,28.3 72.0,30.1 C72.0,31.9 67.0,29.9 65.8,29.2 C64.6,28.5 63.7,26.7 63.2,24.9 C62.7,23.1 62.1,17.2 62.4,16.0Z" fill="#a0c6ea"/>
<ellipse cx="49.9" cy="28.4" rx="1.4" ry="3.0" fill="#4480cc"/>
<ellipse cx="48.7" cy="48.0" rx="1.4" ry="1.4" fill="#4480cc"/>
<ellipse cx="32.8" cy="56.6" rx="1.4" ry="1.4" fill="#a0c6ea"/>
<ellipse cx="23.9" cy="56.6" rx="1.4" ry="1.4" fill="#1c5cb2"/>
</g>
<use href="#si" fill="none" stroke="#255592" stroke-opacity="0.55" stroke-width="0.6"/>
</g>
<text x="87.0" y="205.5" font-size="17.2" text-anchor="middle" class="yl">1981</text>
<g transform="translate(121.2,190.7)">
<use href="#nb"/>
<g clip-path="url(#cp)"><rect x="-2" y="14" width="76" height="54" fill="#f1f1f1"/>
<path d="M80.0,0.0 C71.7,-10.7 26.0,-4.5 17.7,0.0 C9.4,4.5 17.2,27.9 17.7,33.5 C18.2,39.1 20.0,39.7 21.1,42.0 C22.2,44.3 24.4,48.3 26.2,50.6 C28.0,52.9 33.0,57.5 34.8,59.1 C36.6,60.7 39.2,59.8 39.9,62.6 C40.6,65.4 34.6,77.7 39.9,80.0 C45.2,82.3 74.7,90.7 80.0,80.0 C85.3,69.3 88.3,10.7 80.0,0.0Z" fill="#a0c6ea"/>
<path d="M56.1,24.9 C56.4,22.8 56.0,17.2 57.0,16.0 C58.0,14.8 61.8,14.1 63.8,16.0 C65.8,17.9 72.3,27.9 72.0,30.1 C71.7,32.3 63.3,31.9 61.3,32.6 C59.3,33.3 57.9,35.3 57.0,35.2 C56.1,35.1 54.5,33.2 54.4,31.8 C54.3,30.4 55.8,27.0 56.1,24.9Z" fill="#6fa5dc"/>
<ellipse cx="35.1" cy="28.7" rx="1.4" ry="1.4" fill="#f4f4f4"/>
<ellipse cx="14.3" cy="36.6" rx="1.5" ry="1.0" fill="#a0c6ea"/>
<ellipse cx="41.0" cy="40.5" rx="0.8" ry="0.8" fill="#6fa5dc"/>
<ellipse cx="45.4" cy="43.0" rx="0.8" ry="0.8" fill="#6fa5dc"/>
</g>
<use href="#si" fill="none" stroke="#ababab" stroke-width="0.8"/>
</g>
<text x="156.8" y="205.5" font-size="10.2" text-anchor="middle" class="ys">1982</text>
<g transform="translate(192.4,190.7)">
<use href="#nb"/>
<g clip-path="url(#cp)"><rect x="-2" y="14" width="76" height="54" fill="#a0c6ea"/>
<path d="M-2.0,37.8 C-0.9,35.9 4.6,29.3 6.4,28.0 C8.2,26.7 10.0,27.4 11.6,28.0 C13.2,28.6 16.9,31.6 18.4,32.6 C19.9,33.6 22.2,33.9 22.7,35.2 C23.2,36.5 22.4,40.3 21.8,42.0 C21.2,43.7 19.4,47.3 18.4,48.0 C17.4,48.7 15.1,48.0 14.1,47.2 C13.1,46.4 11.8,42.7 10.7,42.0 C9.6,41.3 7.3,42.0 5.6,42.0 C3.9,42.0 -1.0,42.6 -2.0,42.0 C-3.0,41.4 -3.1,39.7 -2.0,37.8Z" fill="#f1f1f1"/>
<path d="M40.6,20.0 C41.7,18.0 48.5,20.0 50.9,20.0 C53.3,20.0 57.5,20.7 58.6,20.0 C59.7,19.3 58.4,15.7 59.4,15.0 C60.4,14.3 64.6,12.9 66.3,15.0 C68.0,17.1 72.5,28.6 72.0,30.9 C71.5,33.2 64.9,31.8 62.8,32.6 C60.7,33.4 57.5,35.6 56.0,36.9 C54.5,38.2 52.4,40.9 51.7,42.0 C51.0,43.1 51.8,45.0 50.9,45.5 C50.0,46.0 46.1,46.0 44.9,45.5 C43.7,45.0 42.3,43.4 42.0,42.0 C41.7,40.6 42.9,38.1 42.7,35.2 C42.5,32.3 39.5,22.0 40.6,20.0Z" fill="#f1f1f1"/>
<ellipse cx="28.3" cy="45.8" rx="1.9" ry="1.9" fill="#f4f4f4"/>
<ellipse cx="34.6" cy="45.8" rx="1.9" ry="1.9" fill="#f4f4f4"/>
<ellipse cx="32.6" cy="42.0" rx="1.2" ry="1.2" fill="#f4f4f4"/>
<ellipse cx="14.6" cy="50.1" rx="1.0" ry="1.0" fill="#f4f4f4"/>
<ellipse cx="40.6" cy="50.6" rx="1.0" ry="1.0" fill="#f4f4f4"/>
<ellipse cx="19.3" cy="34.3" rx="1.5" ry="1.5" fill="#a0c6ea"/>
</g>
<use href="#si" fill="none" stroke="#7894af" stroke-opacity="0.55" stroke-width="0.6"/>
</g>
<text x="228.0" y="205.5" font-size="10.2" text-anchor="middle" class="ys">1983</text>
<g transform="translate(263.6,190.7)">
<use href="#nb"/>
<g clip-path="url(#cp)"><rect x="-2" y="14" width="76" height="54" fill="#1a59ae"/>
</g>
<use href="#si" fill="none" stroke="#134282" stroke-opacity="0.55" stroke-width="0.6"/>
</g>
<text x="299.2" y="205.5" font-size="10.2" text-anchor="middle" class="ys">1984</text>
<g transform="translate(334.8,190.7)">
<use href="#nb"/>
<g clip-path="url(#cp)"><rect x="-2" y="14" width="76" height="54" fill="#1b58ad"/>
<path d="M-5.0,0.0 C-2.3,-10.7 12.7,-4.2 15.4,0.0 C18.1,4.2 15.6,25.7 15.4,31.8 C15.2,37.9 12.9,42.3 13.7,45.5 C14.5,48.7 19.9,53.7 21.4,55.7 C22.9,57.7 24.3,57.6 24.8,60.8 C25.3,64.0 28.8,77.4 24.8,80.0 C20.8,82.6 -1.0,90.7 -5.0,80.0 C-9.0,69.3 -7.7,10.7 -5.0,0.0Z" fill="#2866b8"/>
<path d="M45.4,32.6 C45.9,30.4 46.4,23.7 47.9,22.0 C49.4,20.3 55.1,20.9 56.5,20.0 C57.9,19.1 57.1,15.7 58.2,15.0 C59.3,14.3 63.2,13.0 65.0,15.0 C66.8,17.0 72.3,27.8 72.0,30.1 C71.7,32.4 64.5,31.8 62.4,32.6 C60.3,33.4 57.6,35.1 56.5,36.1 C55.4,37.1 54.3,38.5 54.0,40.3 C53.7,42.1 55.1,48.0 54.0,49.7 C52.9,51.4 47.3,52.7 45.4,53.2 C43.5,53.7 40.4,53.8 39.4,53.2 C38.4,52.6 37.2,50.0 37.7,48.9 C38.2,47.8 41.9,46.0 42.8,44.6 C43.7,43.2 44.2,40.2 44.5,38.6 C44.8,37.0 44.9,34.8 45.4,32.6Z" fill="#213f86"/>
</g>
<use href="#si" fill="none" stroke="#144281" stroke-opacity="0.55" stroke-width="0.6"/>
</g>
<text x="370.4" y="205.5" font-size="10.2" text-anchor="middle" class="ys">1985</text>
<g transform="translate(406.0,190.7)">
<use href="#nb"/>
<g clip-path="url(#cp)"><rect x="-2" y="14" width="76" height="54" fill="#1c5cb2"/>
<path d="M-5.0,0.0 C-0.3,-10.7 25.9,-4.1 30.6,0.0 C35.3,4.1 30.9,25.5 30.6,30.9 C30.3,36.3 28.2,37.7 28.0,40.3 C27.8,42.9 28.6,47.7 28.9,50.6 C29.2,53.5 30.4,57.8 30.6,61.7 C30.8,65.6 35.3,77.6 30.6,80.0 C25.9,82.4 -0.3,90.7 -5.0,80.0 C-9.7,69.3 -9.7,10.7 -5.0,0.0Z" fill="#2866b8"/>
<path d="M-5.0,0.0 C-2.5,-10.7 11.0,-4.1 13.5,0.0 C16.0,4.1 13.0,25.5 13.5,30.9 C14.0,36.3 16.9,37.7 16.9,40.3 C16.9,42.9 13.3,48.3 13.5,50.6 C13.7,52.9 17.2,55.9 18.6,57.4 C20.0,58.9 23.0,58.7 23.7,61.7 C24.4,64.7 27.5,77.6 23.7,80.0 C19.9,82.4 -1.2,90.7 -5.0,80.0 C-8.8,69.3 -7.5,10.7 -5.0,0.0Z" fill="#3d7cc8"/>
<ellipse cx="10.6" cy="34.0" rx="1.4" ry="1.4" fill="#6fa5dc"/>
<ellipse cx="20.3" cy="58.3" rx="1.0" ry="1.0" fill="#6fa5dc"/>
</g>
<use href="#si" fill="none" stroke="#154585" stroke-opacity="0.55" stroke-width="0.6"/>
</g>
<text x="441.6" y="205.5" font-size="10.2" text-anchor="middle" class="ys">1986</text>
<g transform="translate(477.2,190.7)">
<use href="#nb"/>
<g clip-path="url(#cp)"><rect x="-2" y="14" width="76" height="54" fill="#1f5fb5"/>
<path d="M-5.0,0.0 C-2.2,-10.7 13.1,-4.2 15.9,0.0 C18.7,4.2 16.2,26.2 15.9,31.8 C15.6,37.4 13.5,39.7 13.3,42.0 C13.1,44.3 14.1,43.8 14.2,48.9 C14.3,54.0 16.8,75.9 14.2,80.0 C11.6,84.1 -2.4,90.7 -5.0,80.0 C-7.6,69.3 -7.8,10.7 -5.0,0.0Z" fill="#4480cc"/>
<path d="M-2.0,48.9 C0.2,46.9 10.7,48.7 14.2,48.9 C17.7,49.1 22.2,49.5 24.4,50.6 C26.6,51.7 29.5,55.6 30.4,57.4 C31.3,59.2 35.6,63.1 31.3,64.0 C27.0,64.9 2.4,66.0 -2.0,64.0 C-6.4,62.0 -4.2,50.9 -2.0,48.9Z" fill="#4480cc"/>
<ellipse cx="22.4" cy="36.6" rx="2.5" ry="2.5" fill="#3d7cc8"/>
<ellipse cx="38.5" cy="57.4" rx="2.0" ry="2.0" fill="#2c6cc0"/>
<ellipse cx="10.4" cy="33.8" rx="1.0" ry="1.0" fill="#6fa5dc"/>
</g>
<use href="#si" fill="none" stroke="#174787" stroke-opacity="0.55" stroke-width="0.6"/>
</g>
<text x="512.8" y="205.5" font-size="10.2" text-anchor="middle" class="ys">1987</text>
<g transform="translate(548.4,190.7)">
<use href="#nb"/>
<g clip-path="url(#cp)"><rect x="-2" y="14" width="76" height="54" fill="#f1f1f1"/>
<path d="M32.7,29.2 C32.9,28.1 36.0,24.7 37.0,24.0 C38.0,23.3 39.0,24.3 40.4,24.0 C41.8,23.7 45.2,22.5 47.3,22.0 C49.4,21.5 54.4,20.9 55.8,20.0 C57.2,19.1 56.4,15.7 57.5,15.0 C58.6,14.3 62.5,13.0 64.4,15.0 C66.3,17.0 72.2,27.8 72.0,30.1 C71.8,32.4 64.5,31.9 62.6,32.6 C60.7,33.3 58.9,34.4 57.5,35.2 C56.1,36.0 53.3,36.6 52.4,38.6 C51.5,40.6 51.4,49.6 50.5,50.5 C49.6,51.4 46.8,46.7 45.6,45.6 C44.4,44.5 42.1,43.7 41.3,42.5 C40.5,41.3 39.7,38.2 39.6,36.9 C39.5,35.6 41.0,33.2 40.4,32.6 C39.8,32.0 36.3,33.1 35.3,32.6 C34.3,32.1 32.5,30.3 32.7,29.2Z" fill="#a0c6ea"/>
<ellipse cx="37.9" cy="29.2" rx="1.0" ry="2.0" fill="#f4f4f4"/>
</g>
<use href="#si" fill="none" stroke="#ababab" stroke-width="0.8"/>
</g>
<text x="584.0" y="205.5" font-size="10.2" text-anchor="middle" class="ys">1988</text>
<g transform="translate(619.6,190.7)">
<use href="#nb"/>
<g clip-path="url(#cp)"><rect x="-2" y="14" width="76" height="54" fill="#f1f1f1"/>
<path d="M6.4,32.3 C6.8,31.6 8.7,29.8 9.9,29.5 C11.1,29.2 14.4,29.5 15.2,30.0 C16.0,30.5 16.6,32.5 16.1,33.2 C15.6,33.9 12.9,34.8 11.7,35.0 C10.5,35.2 7.9,35.4 7.2,35.0 C6.5,34.6 6.0,33.0 6.4,32.3Z" fill="#f8c4c8"/>
<path d="M0.0,47.4 C0.6,45.2 3.6,46.9 4.6,47.4 C5.6,47.9 6.3,50.1 7.2,50.9 C8.1,51.7 10.3,52.9 11.7,53.5 C13.1,54.1 16.1,54.7 17.9,55.3 C19.7,55.9 24.2,56.8 24.9,58.0 C25.6,59.2 24.4,63.2 23.2,64.0 C22.0,64.8 18.0,64.0 16.1,64.0 C14.2,64.0 11.1,64.0 9.0,64.0 C6.9,64.0 1.2,66.2 0.0,64.0 C-1.2,61.8 -0.6,49.6 0.0,47.4Z" fill="#9cc3ea"/>
<path d="M3.0,58.5 C3.9,57.6 8.0,57.6 10.0,57.5 C12.0,57.4 16.4,57.7 18.0,58.0 C19.6,58.3 21.5,59.2 22.0,60.0 C22.5,60.8 24.5,63.5 22.0,64.0 C19.5,64.5 5.5,64.7 3.0,64.0 C0.5,63.3 2.1,59.4 3.0,58.5Z" fill="#5b97d8"/>
</g>
<use href="#si" fill="none" stroke="#ababab" stroke-width="0.8"/>
</g>
<text x="655.2" y="205.5" font-size="10.2" text-anchor="middle" class="ys">1989</text>
<g transform="translate(690.8,190.7)">
<use href="#nb"/>
<g clip-path="url(#cp)"><rect x="-2" y="14" width="76" height="54" fill="#f1f1f1"/>
<path d="M37.8,42.9 C38.5,41.7 42.5,43.4 44.0,42.9 C45.5,42.4 47.9,40.6 49.3,39.4 C50.7,38.2 53.0,35.3 54.6,34.1 C56.2,32.9 59.9,31.5 61.6,30.6 C63.3,29.7 65.6,27.0 67.0,27.0 C68.4,27.0 72.5,29.8 72.0,30.6 C71.5,31.4 65.4,32.5 63.4,33.2 C61.4,33.9 58.5,34.8 57.2,35.9 C55.9,37.0 54.3,39.6 53.9,41.2 C53.5,42.8 55.1,46.6 54.0,48.2 C52.9,49.8 47.0,52.0 45.7,52.9 C44.4,53.8 44.3,53.8 44.2,55.3 C44.1,56.8 45.8,62.8 45.1,64.0 C44.4,65.2 39.5,65.6 38.6,64.0 C37.7,62.4 38.7,54.6 38.6,51.8 C38.5,49.0 37.1,44.1 37.8,42.9Z" fill="#f8c4c8"/>
</g>
<use href="#si" fill="none" stroke="#ababab" stroke-width="0.8"/>
</g>
<text x="726.4" y="205.5" font-size="10.2" text-anchor="middle" class="ys">1990</text>
<g transform="translate(50.0,275.7)">
<use href="#nb"/>
<g clip-path="url(#cp)"><rect x="-2" y="14" width="76" height="54" fill="#3b78c6"/>
<path d="M29.9,33.1 C30.1,31.2 32.5,25.5 34.2,24.0 C35.9,22.5 40.4,22.5 42.7,22.0 C45.0,21.5 49.2,20.3 51.3,20.0 C53.4,19.7 57.1,20.7 58.1,20.0 C59.1,19.3 58.0,15.7 59.0,15.0 C60.0,14.3 64.1,13.0 65.8,15.0 C67.5,17.0 72.3,27.4 72.0,29.7 C71.7,32.0 65.2,31.4 63.2,32.2 C61.2,33.0 58.5,34.7 57.3,35.7 C56.1,36.7 54.4,38.1 54.0,39.9 C53.6,41.7 55.0,47.6 54.0,49.3 C53.0,51.0 47.9,52.5 46.2,52.8 C44.5,53.1 42.6,52.5 41.0,51.9 C39.4,51.3 35.6,49.6 34.2,48.5 C32.8,47.4 31.0,44.8 30.8,43.4 C30.6,42.0 32.6,39.6 32.5,38.2 C32.4,36.8 29.7,35.0 29.9,33.1Z" fill="#1f5fb5"/>
<ellipse cx="36.5" cy="37.8" rx="4.0" ry="2.5" fill="#3b78c6"/>
<path d="M32.5,58.7 C32.6,57.7 36.2,56.4 37.6,56.2 C39.0,56.0 41.6,56.0 42.7,57.0 C43.8,58.0 46.8,63.1 46.0,64.0 C45.2,64.9 38.6,64.7 36.8,64.0 C35.0,63.3 32.4,59.7 32.5,58.7Z" fill="#1f5fb5"/>
<ellipse cx="23.9" cy="39.1" rx="1.0" ry="1.0" fill="#6fa5dc"/>
<ellipse cx="7.7" cy="45.1" rx="1.0" ry="1.0" fill="#6fa5dc"/>
<ellipse cx="12.5" cy="37.0" rx="0.8" ry="0.8" fill="#1c5cb2"/>
</g>
<use href="#si" fill="none" stroke="#2c5a94" stroke-opacity="0.55" stroke-width="0.6"/>
</g>
<text x="87.0" y="289.8" font-size="17.2" text-anchor="middle" class="yl">1991</text>
<g transform="translate(121.2,275.7)">
<use href="#nb"/>
<g clip-path="url(#cp)"><rect x="-2" y="14" width="76" height="54" fill="#f3abaf"/>
<path d="M46.8,29.7 C47.4,27.9 50.5,23.3 51.9,22.0 C53.3,20.7 56.1,20.9 57.0,20.0 C57.9,19.1 57.6,15.7 58.7,15.0 C59.8,14.3 63.8,13.0 65.6,15.0 C67.4,17.0 72.2,27.4 72.0,29.7 C71.8,32.0 65.7,31.5 63.8,32.2 C61.9,32.9 59.5,34.1 57.9,34.8 C56.3,35.5 53.3,37.3 51.9,37.4 C50.5,37.5 48.3,36.7 47.6,35.7 C46.9,34.7 46.2,31.5 46.8,29.7Z" fill="#f08488"/>
<path d="M0.0,43.4 C0.5,40.4 2.8,42.9 4.0,43.4 C5.2,43.9 7.7,45.7 9.1,46.8 C10.5,47.9 12.2,50.5 14.3,51.9 C16.4,53.3 21.8,56.1 24.5,57.0 C27.2,57.9 33.0,58.1 34.8,58.7 C36.6,59.3 37.7,60.3 38.2,61.3 C38.7,62.3 43.3,65.4 38.2,66.0 C33.1,66.6 5.1,69.0 0.0,66.0 C-5.1,63.0 -0.5,46.4 0.0,43.4Z" fill="#f6bdc0"/>
<ellipse cx="5.5" cy="61.2" rx="2.2" ry="1.2" fill="#f8e4e5"/>
</g>
<use href="#si" fill="none" stroke="#b68083" stroke-opacity="0.55" stroke-width="0.6"/>
</g>
<text x="156.8" y="289.8" font-size="10.2" text-anchor="middle" class="ys">1992</text>
<g transform="translate(192.4,275.7)">
<use href="#nb"/>
<g clip-path="url(#cp)"><rect x="-2" y="14" width="76" height="54" fill="#f1f1f1"/>
<path d="M0.0,48.5 C0.7,46.2 4.5,47.9 5.6,48.5 C6.7,49.1 7.2,52.0 8.1,52.8 C9.0,53.6 11.5,54.7 12.4,54.5 C13.3,54.3 14.1,51.8 15.0,51.0 C15.9,50.2 18.2,48.6 19.3,48.5 C20.4,48.4 22.7,49.3 23.5,50.2 C24.3,51.1 25.1,54.0 25.2,55.3 C25.3,56.6 25.3,58.2 24.4,59.6 C23.5,61.0 20.1,65.1 18.4,66.0 C16.7,66.9 14.1,66.0 11.6,66.0 C9.1,66.0 1.5,68.3 0.0,66.0 C-1.5,63.7 -0.7,50.8 0.0,48.5Z" fill="#a0c6ea"/>
<path d="M57.7,17.0 C58.5,16.0 63.5,16.0 64.6,17.0 C65.7,18.0 65.6,22.7 66.3,24.5 C67.0,26.3 69.8,29.9 69.7,30.5 C69.6,31.1 66.4,29.4 65.4,28.8 C64.4,28.2 62.9,26.9 62.0,26.3 C61.1,25.7 59.2,25.7 58.6,24.5 C58.0,23.3 56.9,18.0 57.7,17.0Z" fill="#a0c6ea"/>
<ellipse cx="62.0" cy="22.0" rx="1.0" ry="1.7" fill="#f4f4f4"/>
</g>
<use href="#si" fill="none" stroke="#ababab" stroke-width="0.8"/>
</g>
<text x="228.0" y="289.8" font-size="10.2" text-anchor="middle" class="ys">1993</text>
<g transform="translate(263.6,275.7)">
<use href="#nb"/>
<g clip-path="url(#cp)"><rect x="-2" y="14" width="76" height="54" fill="#e8292b"/>
<path d="M-2.0,28.0 C1.0,26.4 17.2,26.5 20.7,28.0 C24.2,29.5 24.0,37.3 24.0,39.0 C24.0,40.7 24.2,40.7 20.7,40.8 C17.2,40.9 1.0,41.7 -2.0,40.0 C-5.0,38.3 -5.0,29.6 -2.0,28.0Z" fill="#ea484b"/>
<path d="M-2.0,38.2 C-0.8,34.6 4.9,38.9 7.0,39.1 C9.1,39.3 12.1,39.7 13.9,39.9 C15.7,40.1 19.4,40.2 20.7,40.8 C22.0,41.4 23.3,42.9 23.3,44.2 C23.3,45.5 20.9,47.3 20.7,50.2 C20.5,53.1 22.5,63.9 21.6,66.0 C20.7,68.1 17.0,66.0 13.9,66.0 C10.8,66.0 0.1,69.7 -2.0,66.0 C-4.1,62.3 -3.2,41.8 -2.0,38.2Z" fill="#ef6b6f"/>
<ellipse cx="11.0" cy="33.6" rx="1.4" ry="1.4" fill="#f08a8e"/>
</g>
<use href="#si" fill="none" stroke="#ae1e20" stroke-opacity="0.55" stroke-width="0.6"/>
</g>
<text x="299.2" y="289.8" font-size="10.2" text-anchor="middle" class="ys">1994</text>
<g transform="translate(334.8,275.7)">
<use href="#nb"/>
<g clip-path="url(#cp)"><rect x="-2" y="14" width="76" height="54" fill="#f1f1f1"/>
<path d="M-2.0,37.4 C-0.9,33.8 4.0,38.5 6.0,39.1 C8.0,39.7 11.0,41.5 12.9,41.6 C14.8,41.7 19.1,39.8 20.6,39.9 C22.1,40.0 23.7,41.1 24.0,42.5 C24.3,43.9 23.8,48.6 23.1,50.2 C22.4,51.8 19.9,53.1 18.9,54.5 C17.9,55.9 16.7,58.9 15.4,60.4 C14.1,61.9 11.8,65.3 9.5,66.0 C7.2,66.7 -0.5,69.8 -2.0,66.0 C-3.5,62.2 -3.1,41.0 -2.0,37.4Z" fill="#a0c6ea"/>
<ellipse cx="10.3" cy="33.9" rx="2.0" ry="1.4" fill="#a0c6ea"/>
<ellipse cx="41.1" cy="43.4" rx="1.5" ry="2.0" fill="#a0c6ea"/>
<ellipse cx="33.4" cy="46.8" rx="1.2" ry="1.2" fill="#a0c6ea"/>
<ellipse cx="19.7" cy="39.0" rx="1.0" ry="1.0" fill="#a0c6ea"/>
</g>
<use href="#si" fill="none" stroke="#ababab" stroke-width="0.8"/>
</g>
<text x="370.4" y="289.8" font-size="10.2" text-anchor="middle" class="ys">1995</text>
<g transform="translate(406.0,275.7)">
<use href="#nb"/>
<g clip-path="url(#cp)"><rect x="-2" y="14" width="76" height="54" fill="#1b58ac"/>
<path d="M-5.0,0.0 C-0.9,-10.7 21.3,-4.4 25.4,0.0 C29.5,4.4 25.7,27.6 25.4,33.1 C25.1,38.6 22.9,39.3 22.9,41.6 C22.9,43.9 24.6,47.9 25.4,50.2 C26.2,52.5 28.4,54.7 28.9,58.7 C29.4,62.7 33.4,77.2 28.9,80.0 C24.4,82.8 -0.5,90.7 -5.0,80.0 C-9.5,69.3 -9.1,10.7 -5.0,0.0Z" fill="#2561b5"/>
<ellipse cx="4.5" cy="61.5" rx="3.0" ry="1.5" fill="#4480cc"/>
<path d="M66.0,27.0 C66.0,27.7 69.5,32.0 70.0,32.0 C70.5,32.0 70.5,27.7 70.0,27.0 C69.5,26.3 66.0,26.3 66.0,27.0Z" fill="#1c2f6b"/>
</g>
<use href="#si" fill="none" stroke="#144281" stroke-opacity="0.55" stroke-width="0.6"/>
</g>
<text x="441.6" y="289.8" font-size="10.2" text-anchor="middle" class="ys">1996</text>
<g transform="translate(477.2,275.7)">
<use href="#nb"/>
<g clip-path="url(#cp)"><rect x="-2" y="14" width="76" height="54" fill="#f1f1f1"/>
<path d="M40.7,22.0 C41.8,20.4 46.2,20.3 48.4,20.0 C50.6,19.7 55.6,20.7 56.9,20.0 C58.2,19.3 56.8,15.7 57.8,15.0 C58.8,14.3 62.7,13.0 64.6,15.0 C66.5,17.0 72.3,27.4 72.0,29.7 C71.7,32.0 64.1,31.4 62.0,32.2 C59.9,33.0 57.2,34.7 56.1,35.7 C55.0,36.7 54.3,38.1 54.0,39.9 C53.7,41.7 55.2,47.6 54.0,49.3 C52.8,51.0 46.5,51.8 45.0,52.8 C43.5,53.8 42.5,55.2 42.4,57.0 C42.3,58.8 44.9,64.8 44.0,66.0 C43.1,67.2 37.4,66.9 35.6,66.0 C33.8,65.1 31.0,61.4 30.4,59.6 C29.8,57.8 30.8,54.6 31.3,52.8 C31.8,51.0 33.0,47.8 33.8,45.9 C34.6,44.0 36.5,40.0 37.3,38.2 C38.1,36.4 39.3,34.4 39.8,32.2 C40.3,30.0 39.6,23.6 40.7,22.0Z" fill="#98c1ea"/>
<ellipse cx="41.5" cy="43.4" rx="2.7" ry="2.2" fill="#f4f4f4"/>
<ellipse cx="1.5" cy="36.5" rx="2.2" ry="2.0" fill="#f8c4c8"/>
<ellipse cx="9.9" cy="33.9" rx="1.7" ry="1.2" fill="#f8c4c8"/>
</g>
<use href="#si" fill="none" stroke="#ababab" stroke-width="0.8"/>
</g>
<text x="512.8" y="289.8" font-size="10.2" text-anchor="middle" class="ys">1997</text>
<g transform="translate(548.4,275.7)">
<use href="#nb"/>
<g clip-path="url(#cp)"><rect x="-2" y="14" width="76" height="54" fill="#f1f1f1"/>
<path d="M-2.0,36.5 C-0.9,34.6 4.4,28.3 6.2,27.0 C8.0,25.7 9.8,27.0 11.4,27.0 C13.0,27.0 16.2,27.0 18.2,27.0 C20.2,27.0 24.8,27.7 26.7,27.0 C28.6,26.3 31.1,22.9 32.7,22.0 C34.3,21.1 37.2,19.3 38.7,20.0 C40.2,20.7 43.6,25.5 43.8,27.1 C44.0,28.7 41.3,30.9 40.4,32.2 C39.5,33.5 37.8,35.2 37.0,36.5 C36.2,37.8 35.1,40.6 34.4,41.6 C33.7,42.6 33.2,44.2 31.9,44.2 C30.6,44.2 26.5,41.7 25.0,41.6 C23.5,41.5 21.9,43.4 20.8,43.4 C19.7,43.4 17.4,41.1 16.5,41.6 C15.6,42.1 14.8,46.0 13.9,46.8 C13.0,47.6 10.6,48.1 9.7,47.6 C8.8,47.1 8.7,44.2 7.1,43.4 C5.5,42.6 -0.8,42.5 -2.0,41.6 C-3.2,40.7 -3.1,38.4 -2.0,36.5Z" fill="#f6c3c6"/>
<ellipse cx="10.5" cy="34.0" rx="1.9" ry="1.9" fill="#f4f4f4"/>
<ellipse cx="39.6" cy="60.4" rx="2.4" ry="2.4" fill="#f6c3c6"/>
</g>
<use href="#si" fill="none" stroke="#ababab" stroke-width="0.8"/>
</g>
<text x="584.0" y="289.8" font-size="10.2" text-anchor="middle" class="ys">1998</text>
<g transform="translate(619.6,275.7)">
<use href="#nb"/>
<g clip-path="url(#cp)"><rect x="-2" y="14" width="76" height="54" fill="#f1f1f1"/>
<path d="M-2.0,42.5 C-0.5,38.7 6.8,38.1 9.0,37.2 C11.2,36.3 13.4,35.3 14.3,35.5 C15.2,35.7 16.1,37.6 16.1,39.0 C16.1,40.4 14.8,44.2 14.3,46.1 C13.8,48.0 12.5,51.4 12.6,53.1 C12.7,54.8 15.1,56.8 15.2,58.5 C15.3,60.2 14.7,65.0 13.4,66.0 C12.1,67.0 7.6,66.0 5.5,66.0 C3.4,66.0 -1.0,69.1 -2.0,66.0 C-3.0,62.9 -3.5,46.3 -2.0,42.5Z" fill="#f6c6c9"/>
<ellipse cx="31.7" cy="57.6" rx="2.1" ry="2.1" fill="#f8c4c8"/>
<ellipse cx="44.7" cy="43.4" rx="1.0" ry="1.0" fill="#f8c4c8"/>
<ellipse cx="61.2" cy="30.2" rx="1.8" ry="2.5" fill="#f8c4c8"/>
</g>
<use href="#si" fill="none" stroke="#ababab" stroke-width="0.8"/>
</g>
<text x="655.2" y="289.8" font-size="10.2" text-anchor="middle" class="ys">1999</text>
<g transform="translate(690.8,275.7)">
<use href="#nb"/>
<g clip-path="url(#cp)"><rect x="-2" y="14" width="76" height="54" fill="#e62a2c"/>
<path d="M80.0,0.0 C74.7,-10.7 45.7,-3.9 40.4,0.0 C35.1,3.9 41.3,24.1 40.4,29.3 C39.5,34.5 34.8,36.3 33.3,39.0 C31.8,41.7 29.4,46.8 28.9,49.6 C28.4,52.4 29.2,58.4 29.8,60.2 C30.4,62.0 32.8,60.3 33.3,62.9 C33.8,65.5 27.1,77.7 33.3,80.0 C39.5,82.3 73.8,90.7 80.0,80.0 C86.2,69.3 85.3,10.7 80.0,0.0Z" fill="#cf2125"/>
<path d="M-2.0,41.5 C-1.2,38.2 2.7,41.1 4.0,41.5 C5.3,41.9 6.7,43.6 8.0,44.5 C9.3,45.4 12.2,46.9 13.5,48.0 C14.8,49.1 16.3,51.1 17.5,52.5 C18.7,53.9 22.0,56.7 22.5,58.5 C23.0,60.3 24.3,65.0 21.0,66.0 C17.7,67.0 1.1,69.3 -2.0,66.0 C-5.1,62.7 -2.8,44.8 -2.0,41.5Z" fill="#ee6a6e"/>
<ellipse cx="1.5" cy="36.5" rx="2.0" ry="2.0" fill="#ee6a6e"/>
</g>
<use href="#si" fill="none" stroke="#ac1f21" stroke-opacity="0.55" stroke-width="0.6"/>
</g>
<text x="726.4" y="289.8" font-size="10.2" text-anchor="middle" class="ys">2000</text>
<g transform="translate(50.0,360.7)">
<use href="#nb"/>
<g clip-path="url(#cp)"><rect x="-2" y="14" width="76" height="54" fill="#f2aeb2"/>
<path d="M-2.0,37.6 C-0.8,35.1 4.9,28.4 6.8,27.0 C8.7,25.6 10.2,27.0 12.0,27.0 C13.8,27.0 18.2,26.2 20.5,27.0 C22.8,27.8 28.1,31.6 29.0,33.3 C29.9,35.0 28.8,38.6 27.4,40.1 C26.0,41.6 21.1,43.6 18.8,44.4 C16.5,45.2 13.1,45.9 10.3,46.1 C7.5,46.3 -0.4,47.1 -2.0,46.0 C-3.6,44.9 -3.2,40.1 -2.0,37.6Z" fill="#f7c5c8"/>
<ellipse cx="10.6" cy="33.8" rx="1.0" ry="1.0" fill="#f4f4f4"/>
<path d="M29.0,58.1 C29.3,56.7 32.0,55.5 33.3,55.5 C34.6,55.5 37.4,57.3 38.5,58.1 C39.6,58.9 41.2,60.4 41.9,61.5 C42.6,62.6 45.5,65.4 44.0,66.0 C42.5,66.6 32.8,67.1 30.8,66.0 C28.8,64.9 28.7,59.5 29.0,58.1Z" fill="#ee8a8e"/>
<ellipse cx="6.8" cy="60.6" rx="2.4" ry="2.4" fill="#ee8a8e"/>
</g>
<use href="#si" fill="none" stroke="#b58285" stroke-opacity="0.55" stroke-width="0.6"/>
</g>
<text x="87.0" y="375.6" font-size="17.2" text-anchor="middle" class="yl">2001</text>
<g transform="translate(121.2,360.7)">
<use href="#nb"/>
<g clip-path="url(#cp)"><rect x="-2" y="14" width="76" height="54" fill="#ec6468"/>
<path d="M80.0,0.0 C73.3,-10.7 36.3,-4.1 29.6,0.0 C22.9,4.1 29.7,25.4 29.6,30.7 C29.5,36.0 28.6,37.7 28.8,40.1 C29.0,42.5 30.4,46.4 31.4,48.7 C32.4,51.0 35.4,55.3 36.5,57.2 C37.6,59.1 39.4,59.7 39.9,62.7 C40.4,65.7 34.6,77.7 39.9,80.0 C45.2,82.3 74.7,90.7 80.0,80.0 C85.3,69.3 86.7,10.7 80.0,0.0Z" fill="#e62a2c"/>
</g>
<use href="#si" fill="none" stroke="#b14b4e" stroke-opacity="0.55" stroke-width="0.6"/>
</g>
<text x="156.8" y="375.6" font-size="10.2" text-anchor="middle" class="ys">2002</text>
<g transform="translate(192.4,360.7)">
<use href="#nb"/>
<g clip-path="url(#cp)"><rect x="-2" y="14" width="76" height="54" fill="#f2a0a4"/>
<path d="M-5.0,0.0 C-1.1,-10.7 20.1,-4.0 24.0,0.0 C27.9,4.0 24.5,24.7 24.0,30.0 C23.5,35.3 21.6,37.7 20.0,40.0 C18.4,42.3 13.1,41.7 12.0,47.0 C10.9,52.3 14.3,75.6 12.0,80.0 C9.7,84.4 -2.7,90.7 -5.0,80.0 C-7.3,69.3 -8.9,10.7 -5.0,0.0Z" fill="#f4adb1"/>
<path d="M6.4,50.4 C7.1,49.1 12.9,48.1 15.0,47.0 C17.1,45.9 20.0,43.4 21.8,41.8 C23.6,40.2 26.6,36.3 28.7,35.0 C30.8,33.7 34.9,32.6 37.2,32.4 C39.5,32.2 43.6,32.5 45.8,33.3 C48.0,34.1 52.9,36.3 54.0,38.4 C55.1,40.5 55.3,46.9 54.0,48.7 C52.7,50.5 46.7,51.5 44.0,52.1 C41.3,52.7 36.1,52.5 33.8,53.0 C31.5,53.5 29.1,54.9 27.0,55.5 C24.9,56.1 20.7,57.1 18.4,57.2 C16.1,57.3 11.5,57.3 9.9,56.4 C8.3,55.5 5.7,51.7 6.4,50.4Z" fill="#ee8286"/>
<ellipse cx="19.3" cy="47.3" rx="1.2" ry="1.2" fill="#f8c4c8"/>
<ellipse cx="18.5" cy="53.0" rx="1.7" ry="1.7" fill="#f4a8ac"/>
</g>
<use href="#si" fill="none" stroke="#b5787b" stroke-opacity="0.55" stroke-width="0.6"/>
</g>
<text x="228.0" y="375.6" font-size="10.2" text-anchor="middle" class="ys">2003</text>
<g transform="translate(263.6,360.7)">
<use href="#nb"/>
<g clip-path="url(#cp)"><rect x="-2" y="14" width="76" height="54" fill="#f1f1f1"/>
<path d="M6.2,34.1 C6.2,33.1 9.0,30.9 10.5,30.7 C12.0,30.5 15.3,31.9 17.3,32.4 C19.3,32.9 24.0,34.3 25.8,34.1 C27.6,33.9 29.6,32.0 31.0,30.7 C32.4,29.4 34.6,24.9 36.1,24.0 C37.6,23.1 41.4,22.8 42.1,24.0 C42.8,25.2 41.7,31.5 41.2,33.3 C40.7,35.1 38.6,36.5 38.7,37.6 C38.8,38.7 41.5,40.5 42.1,41.8 C42.7,43.1 43.1,45.9 42.9,47.0 C42.7,48.1 41.8,50.1 40.4,50.4 C39.0,50.7 34.6,49.6 32.7,49.5 C30.8,49.4 27.6,49.4 25.8,49.5 C24.0,49.6 20.4,51.0 19.0,50.4 C17.6,49.8 16.7,46.9 15.6,45.3 C14.5,43.7 11.8,39.9 10.5,38.4 C9.2,36.9 6.2,35.1 6.2,34.1Z" fill="#7fb0e2"/>
<ellipse cx="25.0" cy="38.8" rx="1.5" ry="1.5" fill="#f4f4f4"/>
<ellipse cx="18.7" cy="52.1" rx="0.9" ry="0.9" fill="#7fb0e2"/>
<ellipse cx="40.0" cy="51.6" rx="1.2" ry="1.2" fill="#7fb0e2"/>
</g>
<use href="#si" fill="none" stroke="#ababab" stroke-width="0.8"/>
</g>
<text x="299.2" y="375.6" font-size="10.2" text-anchor="middle" class="ys">2004</text>
<g transform="translate(334.8,360.7)">
<use href="#nb"/>
<g clip-path="url(#cp)"><rect x="-2" y="14" width="76" height="54" fill="#4b88cf"/>
<path d="M29.1,57.2 C29.3,55.8 32.3,55.2 33.4,55.2 C34.5,55.2 36.7,56.4 37.7,57.2 C38.7,58.0 40.3,60.3 41.1,61.5 C41.9,62.7 45.3,65.4 44.0,66.0 C42.7,66.6 33.7,67.2 31.7,66.0 C29.7,64.8 28.9,58.6 29.1,57.2Z" fill="#1c5cb2"/>
<ellipse cx="5.2" cy="61.5" rx="2.4" ry="1.6" fill="#2c6cc0"/>
<ellipse cx="11.2" cy="45.3" rx="1.0" ry="1.0" fill="#1c5cb2"/>
<ellipse cx="2.6" cy="34.6" rx="1.7" ry="1.7" fill="#2c6cc0"/>
<path d="M58.0,15.0 C58.5,13.4 64.4,13.4 66.0,15.0 C67.6,16.6 70.5,25.4 70.0,27.0 C69.5,28.6 63.6,28.6 62.0,27.0 C60.4,25.4 57.5,16.6 58.0,15.0Z" fill="#6fa5dc"/>
</g>
<use href="#si" fill="none" stroke="#38669b" stroke-opacity="0.55" stroke-width="0.6"/>
</g>
<text x="370.4" y="375.6" font-size="10.2" text-anchor="middle" class="ys">2005</text>
<g transform="translate(406.0,360.7)">
<use href="#nb"/>
<g clip-path="url(#cp)"><rect x="-2" y="14" width="76" height="54" fill="#f6bcc0"/>
<path d="M26.3,33.3 C26.8,31.1 31.6,23.8 34.0,22.0 C36.4,20.2 41.5,20.3 44.2,20.0 C46.9,19.7 52.7,20.7 54.5,20.0 C56.3,19.3 56.5,15.7 57.9,15.0 C59.3,14.3 62.9,12.9 64.8,15.0 C66.7,17.1 72.5,28.3 72.0,30.7 C71.5,33.1 63.6,32.5 61.3,33.3 C59.0,34.1 56.3,35.6 54.5,36.7 C52.7,37.8 49.8,41.2 47.7,41.8 C45.6,42.4 41.4,41.5 39.1,41.0 C36.8,40.5 32.3,39.4 30.6,38.4 C28.9,37.4 25.8,35.5 26.3,33.3Z" fill="#f9d2d4"/>
<path d="M58.8,15.0 C59.4,13.5 63.8,13.5 64.8,15.0 C65.8,16.5 66.6,25.0 66.0,26.5 C65.4,28.0 61.0,28.0 60.0,26.5 C59.0,25.0 58.2,16.5 58.8,15.0Z" fill="#fbe6e7"/>
<path d="M-5.0,80.0 C-16.3,76.1 -6.1,54.3 -5.0,50.4 C-3.9,46.5 0.7,50.9 3.2,50.4 C5.7,49.9 10.8,47.8 13.5,47.0 C16.2,46.2 21.0,44.9 23.7,44.4 C26.4,43.9 30.8,43.5 34.0,43.6 C37.2,43.7 44.9,45.0 47.7,45.3 C50.5,45.6 50.7,45.9 55.0,46.0 C59.3,46.1 76.7,41.5 80.0,46.0 C83.3,50.5 91.3,75.5 80.0,80.0 C68.7,84.5 6.3,83.9 -5.0,80.0Z" fill="#f4b1b5"/>
</g>
<use href="#si" fill="none" stroke="#b88d90" stroke-opacity="0.55" stroke-width="0.6"/>
</g>
<text x="441.6" y="375.6" font-size="10.2" text-anchor="middle" class="ys">2006</text>
<g transform="translate(477.2,360.7)">
<use href="#nb"/>
<g clip-path="url(#cp)"><rect x="-2" y="14" width="76" height="54" fill="#e52a2c"/>
<path d="M-2.0,37.6 C-1.1,35.3 3.1,28.4 4.8,27.0 C6.5,25.6 9.3,26.2 10.8,27.0 C12.3,27.8 15.4,31.9 15.9,33.3 C16.4,34.7 14.9,36.5 14.2,37.6 C13.5,38.7 11.8,40.9 10.8,41.8 C9.8,42.7 8.2,44.1 6.5,44.4 C4.8,44.7 -0.9,44.9 -2.0,44.0 C-3.1,43.1 -2.9,39.9 -2.0,37.6Z" fill="#ee6a6e"/>
<path d="M34.7,58.9 C34.9,57.7 38.0,57.0 39.0,56.9 C40.0,56.8 41.5,56.9 42.4,58.1 C43.3,59.3 46.7,64.9 46.0,66.0 C45.3,67.1 38.8,66.9 37.3,66.0 C35.8,65.1 34.5,60.1 34.7,58.9Z" fill="#ee6a6e"/>
</g>
<use href="#si" fill="none" stroke="#ab1f21" stroke-opacity="0.55" stroke-width="0.6"/>
</g>
<text x="512.8" y="375.6" font-size="10.2" text-anchor="middle" class="ys">2007</text>
<g transform="translate(548.4,360.7)">
<use href="#nb"/>
<g clip-path="url(#cp)"><rect x="-2" y="14" width="76" height="54" fill="#ec6d71"/>
<path d="M-5.0,0.0 C-0.8,-10.7 22.5,-4.3 26.7,0.0 C30.9,4.3 26.9,26.8 26.7,32.4 C26.5,38.0 25.9,39.4 25.0,41.8 C24.1,44.2 21.5,48.3 19.9,50.4 C18.3,52.5 14.7,55.8 13.1,57.2 C11.5,58.6 8.6,57.6 7.9,60.6 C7.2,63.6 9.6,77.4 7.9,80.0 C6.2,82.6 -3.3,90.7 -5.0,80.0 C-6.7,69.3 -9.2,10.7 -5.0,0.0Z" fill="#f08e92"/>
<path d="M-2.0,37.6 C-0.9,35.7 4.4,28.4 6.2,27.0 C8.0,25.6 10.0,25.9 11.4,27.0 C12.8,28.1 16.3,33.3 16.5,35.0 C16.7,36.7 14.2,39.2 13.1,40.1 C12.0,41.0 9.9,41.7 7.9,41.8 C5.9,41.9 -0.7,41.6 -2.0,41.0 C-3.3,40.4 -3.1,39.5 -2.0,37.6Z" fill="#f5b0b4"/>
<path d="M47.3,28.2 C47.5,26.7 48.5,21.1 49.8,20.0 C51.1,18.9 55.7,20.7 56.7,20.0 C57.7,19.3 56.5,15.7 57.5,15.0 C58.5,14.3 62.5,12.9 64.4,15.0 C66.3,17.1 72.2,28.4 72.0,30.7 C71.8,33.0 64.5,31.9 62.6,32.4 C60.7,32.9 58.9,34.0 57.5,34.1 C56.1,34.2 53.7,33.6 52.4,33.3 C51.1,33.0 48.8,32.3 48.1,31.6 C47.4,30.9 47.1,29.7 47.3,28.2Z" fill="#e62a2c"/>
</g>
<use href="#si" fill="none" stroke="#b15154" stroke-opacity="0.55" stroke-width="0.6"/>
</g>
<text x="584.0" y="375.6" font-size="10.2" text-anchor="middle" class="ys">2008</text>
<g transform="translate(619.6,360.7)">
<use href="#nb"/>
<g clip-path="url(#cp)"><rect x="-2" y="14" width="76" height="54" fill="#eb5c60"/>
<path d="M-2.0,38.3 C-1.0,36.1 3.7,27.6 5.5,26.0 C7.3,24.4 9.8,26.0 11.7,26.0 C13.6,26.0 17.4,26.0 19.6,26.0 C21.8,26.0 26.1,26.5 28.5,26.0 C30.9,25.5 35.2,22.5 37.3,22.0 C39.4,21.5 43.9,20.8 44.4,22.0 C44.9,23.2 42.3,29.6 40.9,31.2 C39.5,32.8 35.9,33.1 33.8,33.9 C31.7,34.7 27.0,36.2 24.9,37.4 C22.8,38.6 20.0,41.8 17.9,42.7 C15.8,43.6 11.7,44.5 9.0,44.5 C6.3,44.5 -0.5,43.5 -2.0,42.7 C-3.5,41.9 -3.0,40.5 -2.0,38.3Z" fill="#f08a8e"/>
<ellipse cx="10.7" cy="34.2" rx="3.6" ry="2.4" fill="#f5b0b4"/>
</g>
<use href="#si" fill="none" stroke="#b04548" stroke-opacity="0.55" stroke-width="0.6"/>
</g>
<text x="655.2" y="375.6" font-size="10.2" text-anchor="middle" class="ys">2009</text>
<g transform="translate(690.8,360.7)">
<use href="#nb"/>
<g clip-path="url(#cp)"><rect x="-2" y="14" width="76" height="54" fill="#f1f1f1"/>
<path d="M-2.0,35.7 C-0.9,33.3 4.3,29.0 5.9,28.0 C7.5,27.0 9.4,27.3 10.3,28.0 C11.2,28.7 13.0,31.7 13.0,33.0 C13.0,34.3 10.8,36.1 10.3,37.4 C9.8,38.7 10.1,41.6 9.5,42.7 C8.9,43.8 7.4,45.0 5.9,45.4 C4.4,45.8 -0.9,47.3 -2.0,46.0 C-3.1,44.7 -3.1,38.1 -2.0,35.7Z" fill="#8cbbe8"/>
<path d="M35.1,54.2 C35.5,53.0 36.6,51.6 37.8,50.7 C39.0,49.8 42.5,47.8 44.0,47.2 C45.5,46.6 48.1,46.1 49.3,46.3 C50.5,46.5 53.2,48.2 53.0,48.9 C52.8,49.6 48.8,50.9 47.5,51.6 C46.2,52.3 43.6,53.3 43.1,54.2 C42.6,55.1 43.7,57.1 44.0,58.7 C44.3,60.3 45.8,65.0 45.0,66.0 C44.2,67.0 39.1,66.9 37.8,66.0 C36.5,65.1 35.5,61.1 35.1,59.5 C34.7,57.9 34.7,55.4 35.1,54.2Z" fill="#8cbbe8"/>
<ellipse cx="41.3" cy="43.5" rx="0.9" ry="0.9" fill="#a0c6ea"/>
</g>
<use href="#si" fill="none" stroke="#ababab" stroke-width="0.8"/>
</g>
<text x="726.4" y="375.6" font-size="10.2" text-anchor="middle" class="ys">2010</text>
<g transform="translate(50.0,446.5)">
<use href="#nb6"/>
<g clip-path="url(#cp)"><rect x="-2" y="14" width="76" height="54" fill="#ec666a"/>
<path d="M-2.0,37.0 C-0.9,34.5 4.3,28.3 6.0,27.0 C7.7,25.7 10.0,26.2 11.1,27.0 C12.2,27.8 14.3,31.2 14.5,32.7 C14.7,34.2 12.9,36.4 12.8,37.9 C12.7,39.4 14.0,42.8 13.7,43.9 C13.4,45.0 12.4,46.1 10.3,46.4 C8.2,46.7 -0.4,47.3 -2.0,46.0 C-3.6,44.7 -3.1,39.5 -2.0,37.0Z" fill="#e62a2c"/>
<path d="M46.2,29.3 C46.7,27.8 49.7,23.2 51.3,22.0 C52.9,20.8 57.1,20.9 58.1,20.0 C59.1,19.1 58.0,15.7 59.0,15.0 C60.0,14.3 64.1,13.0 65.8,15.0 C67.5,17.0 72.3,27.8 72.0,30.2 C71.7,32.6 65.2,32.0 63.2,32.7 C61.2,33.4 58.9,34.8 57.3,35.3 C55.7,35.8 52.6,36.4 51.3,36.2 C50.0,36.0 48.6,34.5 47.9,33.6 C47.2,32.7 45.7,30.8 46.2,29.3Z" fill="#f08a8e"/>
<path d="M-5.0,80.0 C-16.3,76.8 -6.3,59.0 -5.0,55.8 C-3.7,52.6 2.2,55.9 5.1,55.8 C8.0,55.7 14.1,55.3 17.1,55.0 C20.1,54.7 25.1,53.5 27.4,53.3 C29.7,53.1 32.2,52.8 34.2,53.3 C36.2,53.8 40.6,56.1 42.7,56.7 C44.8,57.3 45.0,57.8 50.0,58.0 C55.0,58.2 76.0,55.1 80.0,58.0 C84.0,60.9 91.3,77.1 80.0,80.0 C68.7,82.9 6.3,83.2 -5.0,80.0Z" fill="#f08a8e"/>
<ellipse cx="41.9" cy="43.0" rx="0.9" ry="0.9" fill="#e62a2c"/>
</g>
<use href="#si" fill="none" stroke="#b14c4f" stroke-opacity="0.55" stroke-width="0.6"/>
</g>
<text x="87.0" y="461.2" font-size="17.2" text-anchor="middle" class="yl">2011</text>
<g transform="translate(121.2,446.5)">
<use href="#nb6"/>
<g clip-path="url(#cp)"><rect x="-2" y="14" width="76" height="54" fill="#e42d2f"/>
<path d="M-2.0,37.9 C-0.9,35.1 4.7,28.5 6.6,27.0 C8.5,25.5 11.3,26.1 12.6,27.0 C13.9,27.9 15.9,32.0 16.0,33.6 C16.1,35.2 13.9,37.1 13.4,38.7 C12.9,40.3 13.3,44.2 12.6,45.6 C11.9,47.0 10.2,48.7 8.3,49.0 C6.4,49.3 -0.6,49.5 -2.0,48.0 C-3.4,46.5 -3.1,40.7 -2.0,37.9Z" fill="#ee6a6e"/>
<path d="M29.7,57.5 C30.2,56.8 33.2,55.3 34.8,55.0 C36.4,54.7 40.2,54.7 41.6,55.0 C43.0,55.3 44.4,56.0 45.0,57.5 C45.6,59.0 47.4,64.9 46.0,66.0 C44.6,67.1 36.7,66.8 34.8,66.0 C32.9,65.2 32.1,61.2 31.4,60.1 C30.7,59.0 29.2,58.2 29.7,57.5Z" fill="#ee6a6e"/>
<path d="M0.0,59.2 C1.7,58.3 10.9,58.3 12.6,59.2 C14.3,60.1 14.3,65.1 12.6,66.0 C10.9,66.9 1.7,66.9 0.0,66.0 C-1.7,65.1 -1.7,60.1 0.0,59.2Z" fill="#ec5a5e"/>
</g>
<use href="#si" fill="none" stroke="#ab2123" stroke-opacity="0.55" stroke-width="0.6"/>
</g>
<text x="156.8" y="461.2" font-size="10.2" text-anchor="middle" class="ys">2012</text>
<g transform="translate(192.4,446.5)">
<use href="#nb6"/>
<g clip-path="url(#cp)"><rect x="-2" y="14" width="76" height="54" fill="#ef8b8f"/>
<path d="M-2.0,37.9 C-0.9,35.9 4.5,28.5 6.4,27.0 C8.3,25.5 10.8,26.2 12.4,27.0 C14.0,27.8 17.1,31.4 18.4,32.7 C19.7,34.0 22.0,36.0 21.8,37.0 C21.6,38.0 18.3,39.7 16.7,40.4 C15.1,41.1 12.4,41.9 9.9,42.1 C7.4,42.3 -0.4,42.7 -2.0,42.1 C-3.6,41.5 -3.1,39.9 -2.0,37.9Z" fill="#f6b8bb"/>
<path d="M23.5,43.9 C24.6,42.5 31.1,39.8 33.8,38.7 C36.5,37.6 41.7,35.3 44.0,35.3 C46.3,35.3 50.0,36.9 50.9,38.7 C51.8,40.5 51.8,47.1 50.9,49.0 C50.0,50.9 45.4,51.7 44.0,53.3 C42.6,54.9 42.0,60.1 40.6,60.9 C39.2,61.7 35.4,60.2 33.8,59.2 C32.2,58.2 29.8,54.7 28.7,53.3 C27.6,51.9 25.9,50.3 25.2,49.0 C24.5,47.7 22.4,45.3 23.5,43.9Z" fill="#f19a9e"/>
<path d="M-2.0,49.0 C-0.2,47.0 8.9,50.1 11.6,50.7 C14.3,51.3 17.0,52.3 18.4,53.3 C19.8,54.3 22.0,56.7 21.8,58.4 C21.6,60.1 19.9,65.0 16.7,66.0 C13.5,67.0 0.5,68.3 -2.0,66.0 C-4.5,63.7 -3.8,51.0 -2.0,49.0Z" fill="#ec6468"/>
</g>
<use href="#si" fill="none" stroke="#b3686b" stroke-opacity="0.55" stroke-width="0.6"/>
</g>
<text x="228.0" y="461.2" font-size="10.2" text-anchor="middle" class="ys">2013</text>
<g transform="translate(263.6,446.5)">
<use href="#nb6"/>
<g clip-path="url(#cp)"><rect x="-2" y="14" width="76" height="54" fill="#b21e22"/>
<path d="M-2.0,37.9 C-0.8,34.8 5.1,28.5 7.0,27.0 C8.9,25.5 10.6,26.1 12.2,27.0 C13.8,27.9 18.3,31.8 19.0,33.6 C19.7,35.4 17.8,38.3 17.3,40.4 C16.8,42.5 16.5,47.6 15.6,49.0 C14.7,50.4 12.8,50.6 10.5,50.7 C8.2,50.8 -0.3,51.7 -2.0,50.0 C-3.7,48.3 -3.2,41.0 -2.0,37.9Z" fill="#cf2125"/>
<path d="M-2.0,37.9 C-0.8,36.2 5.1,28.5 7.0,27.0 C8.9,25.5 11.4,26.1 12.2,27.0 C13.0,27.9 13.6,32.4 13.0,34.0 C12.4,35.6 10.0,37.9 8.0,38.7 C6.0,39.5 -0.7,40.1 -2.0,40.0 C-3.3,39.9 -3.2,39.6 -2.0,37.9Z" fill="#e02a2c"/>
<path d="M58.0,15.0 C58.5,13.4 64.4,13.4 66.0,15.0 C67.6,16.6 70.5,25.4 70.0,27.0 C69.5,28.6 63.6,28.6 62.0,27.0 C60.4,25.4 57.5,16.6 58.0,15.0Z" fill="#c01f23"/>
</g>
<use href="#si" fill="none" stroke="#851619" stroke-opacity="0.55" stroke-width="0.6"/>
</g>
<text x="299.2" y="461.2" font-size="10.2" text-anchor="middle" class="ys">2014</text>
<g transform="translate(334.8,446.5)">
<use href="#nb6"/>
<g clip-path="url(#cp)"><rect x="-2" y="14" width="76" height="54" fill="#d32226"/>
<path d="M-5.0,0.0 C-2.4,-10.7 12.0,-4.0 14.6,0.0 C17.2,4.0 14.7,24.0 14.6,30.0 C14.5,36.0 13.8,40.7 14.0,45.0 C14.2,49.3 15.7,57.3 16.0,62.0 C16.3,66.7 18.8,77.6 16.0,80.0 C13.2,82.4 -2.2,90.7 -5.0,80.0 C-7.8,69.3 -7.6,10.7 -5.0,0.0Z" fill="#d92428"/>
</g>
<use href="#si" fill="none" stroke="#9e191c" stroke-opacity="0.55" stroke-width="0.6"/>
</g>
<text x="370.4" y="461.2" font-size="10.2" text-anchor="middle" class="ys">2015</text>
<g transform="translate(406.0,446.5)">
<use href="#nb6"/>
<g clip-path="url(#cp)"><rect x="-2" y="14" width="76" height="54" fill="#e62a2c"/>
<path d="M37.4,37.9 C38.4,37.2 42.4,37.6 44.2,37.0 C46.0,36.4 49.3,34.5 51.1,33.6 C52.9,32.7 56.3,31.2 57.9,30.2 C59.5,29.2 61.7,26.0 63.0,25.9 C64.3,25.8 68.5,28.4 68.0,29.3 C67.5,30.2 61.5,31.8 59.6,32.7 C57.7,33.6 54.5,35.2 53.6,36.2 C52.7,37.2 53.1,38.6 53.0,40.4 C52.9,42.2 53.9,48.1 53.0,49.8 C52.1,51.5 47.5,52.5 45.9,53.3 C44.3,54.1 41.9,55.1 40.8,55.8 C39.7,56.5 38.8,58.2 37.4,58.4 C36.0,58.6 31.1,58.2 30.6,57.5 C30.1,56.8 33.1,54.7 34.0,53.3 C34.9,51.9 37.1,48.8 37.4,47.3 C37.7,45.8 36.5,43.4 36.5,42.1 C36.5,40.8 36.4,38.6 37.4,37.9Z" fill="#ec5c60"/>
<path d="M-2.0,37.0 C-1.1,34.7 3.1,28.3 4.9,27.0 C6.7,25.7 10.4,26.1 11.8,27.0 C13.2,27.9 15.2,32.3 15.2,33.6 C15.2,34.9 12.7,35.9 11.8,37.0 C10.9,38.1 10.1,41.2 8.3,42.1 C6.5,43.0 -0.6,44.6 -2.0,43.9 C-3.4,43.2 -2.9,39.3 -2.0,37.0Z" fill="#ee7377"/>
</g>
<use href="#si" fill="none" stroke="#ac1f21" stroke-opacity="0.55" stroke-width="0.6"/>
</g>
<text x="441.6" y="461.2" font-size="10.2" text-anchor="middle" class="ys">2016</text>
<g transform="translate(477.2,446.5)">
<use href="#nb6"/>
<g clip-path="url(#cp)"><rect x="-2" y="14" width="76" height="54" fill="#e82c2e"/>
<path d="M-2.0,37.9 C-1.1,32.7 3.2,28.5 4.8,27.0 C6.4,25.5 8.5,26.2 9.9,27.0 C11.3,27.8 14.5,31.1 15.0,32.7 C15.5,34.3 13.2,37.1 13.3,38.7 C13.4,40.3 15.7,43.1 15.9,44.7 C16.1,46.3 15.7,49.6 15.0,50.7 C14.3,51.8 10.9,52.4 10.8,53.3 C10.7,54.2 14.2,55.8 14.2,57.5 C14.2,59.2 13.0,64.9 10.8,66.0 C8.6,67.1 -0.3,69.7 -2.0,66.0 C-3.7,62.3 -2.9,43.1 -2.0,37.9Z" fill="#ec6468"/>
<path d="M20.2,35.3 C20.8,34.2 23.3,32.8 24.4,32.7 C25.5,32.6 28.4,33.5 28.7,34.5 C29.0,35.5 27.7,39.1 27.0,40.4 C26.3,41.7 24.5,43.8 23.6,43.9 C22.7,44.0 20.7,42.4 20.2,41.3 C19.7,40.2 19.6,36.4 20.2,35.3Z" fill="#ec6468"/>
<ellipse cx="34.7" cy="29.3" rx="2.5" ry="2.5" fill="#ec6468"/>
<ellipse cx="23.6" cy="56.7" rx="2.0" ry="2.0" fill="#ec6468"/>
<ellipse cx="10.8" cy="53.3" rx="1.7" ry="1.7" fill="#e62a2c"/>
</g>
<use href="#si" fill="none" stroke="#ae2122" stroke-opacity="0.55" stroke-width="0.6"/>
</g>
<text x="512.8" y="461.2" font-size="10.2" text-anchor="middle" class="ys">2017</text>
<rect x="559.00" y="476.7" width="13.60" height="7.0" fill="#1c2f6b"/>
<rect x="572.50" y="476.7" width="13.60" height="7.0" fill="#213f86"/>
<rect x="586.00" y="476.7" width="13.60" height="7.0" fill="#1c5cb2"/>
<rect x="599.50" y="476.7" width="13.60" height="7.0" fill="#2c6cc0"/>
<rect x="613.00" y="476.7" width="13.60" height="7.0" fill="#4480cc"/>
<rect x="626.50" y="476.7" width="13.60" height="7.0" fill="#6fa5dc"/>
<rect x="640.00" y="476.7" width="13.60" height="7.0" fill="#a0c6ea"/>
<rect x="653.50" y="476.7" width="13.60" height="7.0" fill="#f2f2f2"/>
<rect x="667.00" y="476.7" width="13.60" height="7.0" fill="#f8c4c8"/>
<rect x="680.50" y="476.7" width="13.60" height="7.0" fill="#f4a8ac"/>
<rect x="694.00" y="476.7" width="13.60" height="7.0" fill="#f08a8e"/>
<rect x="707.50" y="476.7" width="13.60" height="7.0" fill="#ee6a6e"/>
<rect x="721.00" y="476.7" width="13.60" height="7.0" fill="#e62a2c"/>
<rect x="734.50" y="476.7" width="13.60" height="7.0" fill="#d01f24"/>
<rect x="748.00" y="476.7" width="13.60" height="7.0" fill="#b01c20"/>
<line x1="572.50" y1="476.7" x2="572.50" y2="483.7" stroke="#000" stroke-opacity="0.35" stroke-width="0.5"/>
<line x1="586.00" y1="476.7" x2="586.00" y2="483.7" stroke="#000" stroke-opacity="0.35" stroke-width="0.5"/>
<line x1="599.50" y1="476.7" x2="599.50" y2="483.7" stroke="#000" stroke-opacity="0.35" stroke-width="0.5"/>
<line x1="613.00" y1="476.7" x2="613.00" y2="483.7" stroke="#000" stroke-opacity="0.35" stroke-width="0.5"/>
<line x1="626.50" y1="476.7" x2="626.50" y2="483.7" stroke="#000" stroke-opacity="0.35" stroke-width="0.5"/>
<line x1="640.00" y1="476.7" x2="640.00" y2="483.7" stroke="#000" stroke-opacity="0.35" stroke-width="0.5"/>
<line x1="653.50" y1="476.7" x2="653.50" y2="483.7" stroke="#000" stroke-opacity="0.35" stroke-width="0.5"/>
<line x1="667.00" y1="476.7" x2="667.00" y2="483.7" stroke="#000" stroke-opacity="0.35" stroke-width="0.5"/>
<line x1="680.50" y1="476.7" x2="680.50" y2="483.7" stroke="#000" stroke-opacity="0.35" stroke-width="0.5"/>
<line x1="694.00" y1="476.7" x2="694.00" y2="483.7" stroke="#000" stroke-opacity="0.35" stroke-width="0.5"/>
<line x1="707.50" y1="476.7" x2="707.50" y2="483.7" stroke="#000" stroke-opacity="0.35" stroke-width="0.5"/>
<line x1="721.00" y1="476.7" x2="721.00" y2="483.7" stroke="#000" stroke-opacity="0.35" stroke-width="0.5"/>
<line x1="734.50" y1="476.7" x2="734.50" y2="483.7" stroke="#000" stroke-opacity="0.35" stroke-width="0.5"/>
<line x1="748.00" y1="476.7" x2="748.00" y2="483.7" stroke="#000" stroke-opacity="0.35" stroke-width="0.5"/>
<rect x="559.0" y="476.7" width="202.5" height="7.0" fill="none" stroke="#555" stroke-opacity="0.6" stroke-width="0.5"/>
<text x="572.5" y="473.2" font-size="7.2" text-anchor="middle" class="lg">−1,6</text>
<text x="599.5" y="473.2" font-size="7.2" text-anchor="middle" class="lg">−1,0</text>
<text x="626.5" y="473.2" font-size="7.2" text-anchor="middle" class="lg">−0,6</text>
<text x="660.2" y="473.2" font-size="7.2" text-anchor="middle" class="lg">0</text>
<text x="694.0" y="473.2" font-size="7.2" text-anchor="middle" class="lg">0,6</text>
<text x="721.0" y="473.2" font-size="7.2" text-anchor="middle" class="lg">1,0</text>
<text x="751.5" y="473.2" font-size="7.2" text-anchor="middle" class="lg">1,6 °C</text>
</svg>
<svg width="22" height="22" viewBox="0 0 22 22" style="position:absolute;left:48px;top:521px" fill="none" stroke="#1c1c1c" stroke-width="1.25">
<path d="M5.9,7.5 A5.3,5.3 0 0 1 13.5,14.9"/>
<path d="M3.1,5.0 L15.7,17.1"/>
<path d="M9.3,2.3 V5.4 M14.0,6.8 L15.6,4.8 M15.3,11.1 H17.9"/>
<path d="M2.1,12.7 L4.6,10.3 M4.8,15.6 L7.2,13.1 M7.4,18.2 L9.9,16"/>
</svg>
<div class="logo" style="left:83.3px;font-weight:bold;transform:scaleX(0.865)" id="lg1">ARSO</div>
<div class="logo" style="left:124.8px;transform:scaleX(0.918)" id="lg2">VREME</div>
<div class="cap" style="top:567.4px;left:83px;letter-spacing:-0.01px" id="c1">Odklon letne povprečne temperature zraka od tridesetletnega povprečja 1981–2010.</div>
<div class="cap" style="top:588.2px;left:108.5px;letter-spacing:0.05px" id="c2">Pozitivni odklon (topleje od referenčnega obdobja) je označen z rdečimi toni,</div>
<div class="cap" style="top:609px;left:110.5px" id="c3">negativni odklon (hladneje od referenčnega obdobja) pa z modrimi. / <span class="src">Vir: ARSO</span></div>
</div></body></html>
